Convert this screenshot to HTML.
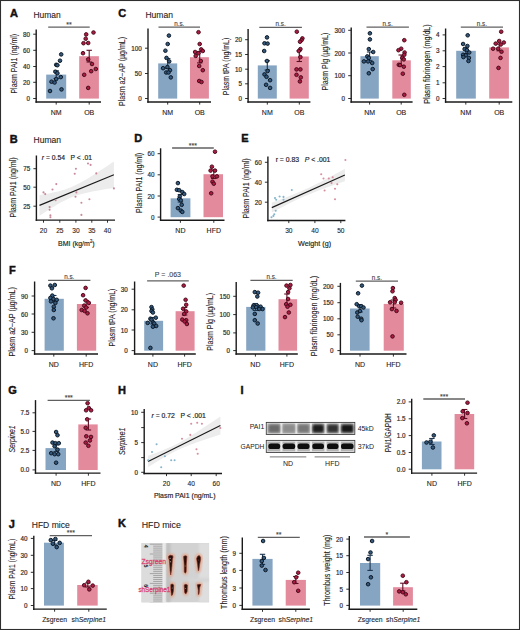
<!DOCTYPE html>
<html><head><meta charset="utf-8"><style>
html,body{margin:0;padding:0;background:#fff;width:520px;height:630px;overflow:hidden}
svg{display:block}
</style></head><body>
<svg width="520" height="630" viewBox="0 0 520 630" font-family='"Liberation Sans", sans-serif'>
<rect x="0" y="0" width="520" height="630" fill="#ffffff"/>
<text x="10.0" y="16.9" font-size="11" font-weight="bold" fill="#111" stroke="#111" stroke-width="0.45">A</text>
<text x="33.5" y="18.2" font-size="8.7" textLength="27.3" lengthAdjust="spacingAndGlyphs" fill="#222" stroke="#222" stroke-width="0.1">Human</text>
<rect x="46.2" y="74.6" width="20" height="24" fill="#86a5c2"/>
<rect x="79.2" y="56.2" width="19.7" height="42.4" fill="#e38b9d"/>
<line x1="56.2" y1="70.8" x2="56.2" y2="78.5" stroke="#1c3550" stroke-width="1.1"/>
<line x1="53.5" y1="70.8" x2="58.9" y2="70.8" stroke="#1c3550" stroke-width="1.1"/>
<line x1="53.5" y1="78.5" x2="58.9" y2="78.5" stroke="#1c3550" stroke-width="1.1"/>
<line x1="89.2" y1="50.3" x2="89.2" y2="62.0" stroke="#5e0c24" stroke-width="1.1"/>
<line x1="86.5" y1="50.3" x2="91.9" y2="50.3" stroke="#5e0c24" stroke-width="1.1"/>
<line x1="86.5" y1="62.0" x2="91.9" y2="62.0" stroke="#5e0c24" stroke-width="1.1"/>
<circle cx="61.2" cy="54.4" r="1.8" fill="#34587c" stroke="#0a1522" stroke-width="0.95"/>
<circle cx="60" cy="60.7" r="1.8" fill="#34587c" stroke="#0a1522" stroke-width="0.95"/>
<circle cx="56.2" cy="64.8" r="1.8" fill="#34587c" stroke="#0a1522" stroke-width="0.95"/>
<circle cx="57.4" cy="65.2" r="1.8" fill="#34587c" stroke="#0a1522" stroke-width="0.95"/>
<circle cx="55.4" cy="71.7" r="1.8" fill="#34587c" stroke="#0a1522" stroke-width="0.95"/>
<circle cx="57.4" cy="73.2" r="1.8" fill="#34587c" stroke="#0a1522" stroke-width="0.95"/>
<circle cx="60.8" cy="77.1" r="1.8" fill="#34587c" stroke="#0a1522" stroke-width="0.95"/>
<circle cx="56.2" cy="79.0" r="1.8" fill="#34587c" stroke="#0a1522" stroke-width="0.95"/>
<circle cx="51.5" cy="81.7" r="1.8" fill="#34587c" stroke="#0a1522" stroke-width="0.95"/>
<circle cx="54.6" cy="82.5" r="1.8" fill="#34587c" stroke="#0a1522" stroke-width="0.95"/>
<circle cx="61.5" cy="89.4" r="1.8" fill="#34587c" stroke="#0a1522" stroke-width="0.95"/>
<circle cx="50" cy="91.0" r="1.8" fill="#34587c" stroke="#0a1522" stroke-width="0.95"/>
<circle cx="93.5" cy="32.5" r="1.8" fill="#ac1c40" stroke="#46081a" stroke-width="0.95"/>
<circle cx="86.2" cy="34.4" r="1.8" fill="#ac1c40" stroke="#46081a" stroke-width="0.95"/>
<circle cx="85.7" cy="38.7" r="1.8" fill="#ac1c40" stroke="#46081a" stroke-width="0.95"/>
<circle cx="83.5" cy="43.2" r="1.8" fill="#ac1c40" stroke="#46081a" stroke-width="0.95"/>
<circle cx="88.2" cy="43.0" r="1.8" fill="#ac1c40" stroke="#46081a" stroke-width="0.95"/>
<circle cx="83" cy="53.2" r="1.8" fill="#ac1c40" stroke="#46081a" stroke-width="0.95"/>
<circle cx="88.2" cy="59.4" r="1.8" fill="#ac1c40" stroke="#46081a" stroke-width="0.95"/>
<circle cx="92" cy="64.0" r="1.8" fill="#ac1c40" stroke="#46081a" stroke-width="0.95"/>
<circle cx="95.8" cy="69.0" r="1.8" fill="#ac1c40" stroke="#46081a" stroke-width="0.95"/>
<circle cx="91.2" cy="71.2" r="1.8" fill="#ac1c40" stroke="#46081a" stroke-width="0.95"/>
<circle cx="84.2" cy="74.8" r="1.8" fill="#ac1c40" stroke="#46081a" stroke-width="0.95"/>
<circle cx="88.2" cy="87.9" r="1.8" fill="#ac1c40" stroke="#46081a" stroke-width="0.95"/>
<line x1="36.2" y1="29.5" x2="36.2" y2="102.8" stroke="#1a1a1a" stroke-width="1.4"/>
<line x1="35.5" y1="102.0" x2="101.0" y2="102.0" stroke="#1a1a1a" stroke-width="1.4"/>
<line x1="33.2" y1="34.2" x2="36.2" y2="34.2" stroke="#1a1a1a" stroke-width="0.9"/>
<text x="30.0" y="36.7" font-size="6.3" text-anchor="end" fill="#2a2a2a" stroke="#2a2a2a" stroke-width="0.18">80</text>
<line x1="33.2" y1="50.3" x2="36.2" y2="50.3" stroke="#1a1a1a" stroke-width="0.9"/>
<text x="30.0" y="52.8" font-size="6.3" text-anchor="end" fill="#2a2a2a" stroke="#2a2a2a" stroke-width="0.18">60</text>
<line x1="33.2" y1="66.5" x2="36.2" y2="66.5" stroke="#1a1a1a" stroke-width="0.9"/>
<text x="30.0" y="69.0" font-size="6.3" text-anchor="end" fill="#2a2a2a" stroke="#2a2a2a" stroke-width="0.18">40</text>
<line x1="33.2" y1="82.3" x2="36.2" y2="82.3" stroke="#1a1a1a" stroke-width="0.9"/>
<text x="30.0" y="84.8" font-size="6.3" text-anchor="end" fill="#2a2a2a" stroke="#2a2a2a" stroke-width="0.18">20</text>
<line x1="33.2" y1="98.5" x2="36.2" y2="98.5" stroke="#1a1a1a" stroke-width="0.9"/>
<text x="30.0" y="101.0" font-size="6.3" text-anchor="end" fill="#2a2a2a" stroke="#2a2a2a" stroke-width="0.18">0</text>
<line x1="56.2" y1="102.0" x2="56.2" y2="104.6" stroke="#1a1a1a" stroke-width="0.9"/>
<text x="56.2" y="114.5" font-size="7.0" text-anchor="middle" fill="#222" stroke="#222" stroke-width="0.1">NM</text>
<line x1="89.2" y1="102.0" x2="89.2" y2="104.6" stroke="#1a1a1a" stroke-width="0.9"/>
<text x="89.2" y="114.5" font-size="7.0" text-anchor="middle" fill="#222" stroke="#222" stroke-width="0.1">OB</text>
<line x1="48.2" y1="27.2" x2="89.7" y2="27.2" stroke="#606060" stroke-width="1.3"/>
<text x="68.95" y="26.8" font-size="7" text-anchor="middle" fill="#444" stroke="#444" stroke-width="0.12">**</text>
<text transform="translate(13.9,63.7) rotate(-90)" x="0" y="0" font-size="8.3" text-anchor="middle" dominant-baseline="central" textLength="59.7" lengthAdjust="spacingAndGlyphs" fill="#222" stroke="#222" stroke-width="0.1">Plasm PAI1 (ng/ml)</text>
<text x="118.3" y="16.9" font-size="11" font-weight="bold" fill="#111" stroke="#111" stroke-width="0.45">C</text>
<text x="145.4" y="18.2" font-size="8.7" textLength="27.6" lengthAdjust="spacingAndGlyphs" fill="#222" stroke="#222" stroke-width="0.1">Human</text>
<rect x="158.2" y="63.4" width="19" height="35.2" fill="#86a5c2"/>
<rect x="190" y="57.2" width="18.9" height="41.4" fill="#e38b9d"/>
<line x1="167.7" y1="58.5" x2="167.7" y2="68.3" stroke="#1c3550" stroke-width="1.1"/>
<line x1="165.0" y1="58.5" x2="170.4" y2="58.5" stroke="#1c3550" stroke-width="1.1"/>
<line x1="165.0" y1="68.3" x2="170.4" y2="68.3" stroke="#1c3550" stroke-width="1.1"/>
<line x1="199.7" y1="51.5" x2="199.7" y2="62.9" stroke="#5e0c24" stroke-width="1.1"/>
<line x1="197.0" y1="51.5" x2="202.4" y2="51.5" stroke="#5e0c24" stroke-width="1.1"/>
<line x1="197.0" y1="62.9" x2="202.4" y2="62.9" stroke="#5e0c24" stroke-width="1.1"/>
<circle cx="168.9" cy="35.6" r="1.8" fill="#34587c" stroke="#0a1522" stroke-width="0.95"/>
<circle cx="167.7" cy="44.0" r="1.8" fill="#34587c" stroke="#0a1522" stroke-width="0.95"/>
<circle cx="165.4" cy="50.7" r="1.8" fill="#34587c" stroke="#0a1522" stroke-width="0.95"/>
<circle cx="166.5" cy="57.9" r="1.8" fill="#34587c" stroke="#0a1522" stroke-width="0.95"/>
<circle cx="169.2" cy="61.4" r="1.8" fill="#34587c" stroke="#0a1522" stroke-width="0.95"/>
<circle cx="163.1" cy="68.2" r="1.8" fill="#34587c" stroke="#0a1522" stroke-width="0.95"/>
<circle cx="167.4" cy="67.1" r="1.8" fill="#34587c" stroke="#0a1522" stroke-width="0.95"/>
<circle cx="170" cy="70.2" r="1.8" fill="#34587c" stroke="#0a1522" stroke-width="0.95"/>
<circle cx="166.2" cy="72.5" r="1.8" fill="#34587c" stroke="#0a1522" stroke-width="0.95"/>
<circle cx="168.5" cy="72.5" r="1.8" fill="#34587c" stroke="#0a1522" stroke-width="0.95"/>
<circle cx="170.8" cy="77.4" r="1.8" fill="#34587c" stroke="#0a1522" stroke-width="0.95"/>
<circle cx="198.5" cy="32.2" r="1.8" fill="#ac1c40" stroke="#46081a" stroke-width="0.95"/>
<circle cx="199.7" cy="44.0" r="1.8" fill="#ac1c40" stroke="#46081a" stroke-width="0.95"/>
<circle cx="201.2" cy="49.4" r="1.8" fill="#ac1c40" stroke="#46081a" stroke-width="0.95"/>
<circle cx="202.8" cy="51.0" r="1.8" fill="#ac1c40" stroke="#46081a" stroke-width="0.95"/>
<circle cx="195.1" cy="52.0" r="1.8" fill="#ac1c40" stroke="#46081a" stroke-width="0.95"/>
<circle cx="198.5" cy="53.2" r="1.8" fill="#ac1c40" stroke="#46081a" stroke-width="0.95"/>
<circle cx="195.7" cy="55.9" r="1.8" fill="#ac1c40" stroke="#46081a" stroke-width="0.95"/>
<circle cx="200.8" cy="61.0" r="1.8" fill="#ac1c40" stroke="#46081a" stroke-width="0.95"/>
<circle cx="199.2" cy="66.0" r="1.8" fill="#ac1c40" stroke="#46081a" stroke-width="0.95"/>
<circle cx="202.8" cy="70.2" r="1.8" fill="#ac1c40" stroke="#46081a" stroke-width="0.95"/>
<circle cx="199.2" cy="81.0" r="1.8" fill="#ac1c40" stroke="#46081a" stroke-width="0.95"/>
<circle cx="201.5" cy="82.0" r="1.8" fill="#ac1c40" stroke="#46081a" stroke-width="0.95"/>
<line x1="148" y1="28.5" x2="148" y2="102.8" stroke="#1a1a1a" stroke-width="1.4"/>
<line x1="147.3" y1="102.0" x2="211" y2="102.0" stroke="#1a1a1a" stroke-width="1.4"/>
<line x1="145" y1="48.2" x2="148" y2="48.2" stroke="#1a1a1a" stroke-width="0.9"/>
<text x="141.8" y="50.7" font-size="6.3" text-anchor="end" fill="#2a2a2a" stroke="#2a2a2a" stroke-width="0.18">100</text>
<line x1="145" y1="73.5" x2="148" y2="73.5" stroke="#1a1a1a" stroke-width="0.9"/>
<text x="141.8" y="76.0" font-size="6.3" text-anchor="end" fill="#2a2a2a" stroke="#2a2a2a" stroke-width="0.18">50</text>
<line x1="145" y1="98.5" x2="148" y2="98.5" stroke="#1a1a1a" stroke-width="0.9"/>
<text x="141.8" y="101.0" font-size="6.3" text-anchor="end" fill="#2a2a2a" stroke="#2a2a2a" stroke-width="0.18">0</text>
<line x1="167.7" y1="102.0" x2="167.7" y2="104.6" stroke="#1a1a1a" stroke-width="0.9"/>
<text x="167.7" y="114.5" font-size="7.0" text-anchor="middle" fill="#222" stroke="#222" stroke-width="0.1">NM</text>
<line x1="199.7" y1="102.0" x2="199.7" y2="104.6" stroke="#1a1a1a" stroke-width="0.9"/>
<text x="199.7" y="114.5" font-size="7.0" text-anchor="middle" fill="#222" stroke="#222" stroke-width="0.1">OB</text>
<line x1="158.5" y1="27.2" x2="200" y2="27.2" stroke="#606060" stroke-width="1.3"/>
<text x="179.25" y="26.1" font-size="6.3" text-anchor="middle" fill="#444" stroke="#444" stroke-width="0.12">n.s.</text>
<text transform="translate(121.7,71.4) rotate(-90)" x="0" y="0" font-size="8.3" text-anchor="middle" dominant-baseline="central" textLength="69" lengthAdjust="spacingAndGlyphs" fill="#222" stroke="#222" stroke-width="0.1">Plasm a2&#8722;AP (&#181;g/mL)</text>
<rect x="257.8" y="65.4" width="19" height="33.2" fill="#86a5c2"/>
<rect x="289.6" y="56.5" width="19.2" height="42.1" fill="#e38b9d"/>
<line x1="267.3" y1="60.8" x2="267.3" y2="70.0" stroke="#1c3550" stroke-width="1.1"/>
<line x1="264.6" y1="60.8" x2="270.0" y2="60.8" stroke="#1c3550" stroke-width="1.1"/>
<line x1="264.6" y1="70.0" x2="270.0" y2="70.0" stroke="#1c3550" stroke-width="1.1"/>
<line x1="299.3" y1="50.8" x2="299.3" y2="61.5" stroke="#5e0c24" stroke-width="1.1"/>
<line x1="296.6" y1="50.8" x2="302.0" y2="50.8" stroke="#5e0c24" stroke-width="1.1"/>
<line x1="296.6" y1="61.5" x2="302.0" y2="61.5" stroke="#5e0c24" stroke-width="1.1"/>
<circle cx="267" cy="37.4" r="1.8" fill="#34587c" stroke="#0a1522" stroke-width="0.95"/>
<circle cx="264.5" cy="43.3" r="1.8" fill="#34587c" stroke="#0a1522" stroke-width="0.95"/>
<circle cx="267.6" cy="43.6" r="1.8" fill="#34587c" stroke="#0a1522" stroke-width="0.95"/>
<circle cx="264.2" cy="51.0" r="1.8" fill="#34587c" stroke="#0a1522" stroke-width="0.95"/>
<circle cx="267" cy="61.0" r="1.8" fill="#34587c" stroke="#0a1522" stroke-width="0.95"/>
<circle cx="267.6" cy="71.0" r="1.8" fill="#34587c" stroke="#0a1522" stroke-width="0.95"/>
<circle cx="264.5" cy="74.4" r="1.8" fill="#34587c" stroke="#0a1522" stroke-width="0.95"/>
<circle cx="266.5" cy="76.8" r="1.8" fill="#34587c" stroke="#0a1522" stroke-width="0.95"/>
<circle cx="270.1" cy="80.2" r="1.8" fill="#34587c" stroke="#0a1522" stroke-width="0.95"/>
<circle cx="266.1" cy="84.8" r="1.8" fill="#34587c" stroke="#0a1522" stroke-width="0.95"/>
<circle cx="270.1" cy="87.9" r="1.8" fill="#34587c" stroke="#0a1522" stroke-width="0.95"/>
<circle cx="296.8" cy="31.7" r="1.8" fill="#ac1c40" stroke="#46081a" stroke-width="0.95"/>
<circle cx="302.4" cy="38.4" r="1.8" fill="#ac1c40" stroke="#46081a" stroke-width="0.95"/>
<circle cx="301.5" cy="40.2" r="1.8" fill="#ac1c40" stroke="#46081a" stroke-width="0.95"/>
<circle cx="300" cy="41.7" r="1.8" fill="#ac1c40" stroke="#46081a" stroke-width="0.95"/>
<circle cx="300.4" cy="49.1" r="1.8" fill="#ac1c40" stroke="#46081a" stroke-width="0.95"/>
<circle cx="298.8" cy="51.0" r="1.8" fill="#ac1c40" stroke="#46081a" stroke-width="0.95"/>
<circle cx="300.4" cy="57.1" r="1.8" fill="#ac1c40" stroke="#46081a" stroke-width="0.95"/>
<circle cx="296.5" cy="69.4" r="1.8" fill="#ac1c40" stroke="#46081a" stroke-width="0.95"/>
<circle cx="300.4" cy="69.4" r="1.8" fill="#ac1c40" stroke="#46081a" stroke-width="0.95"/>
<circle cx="296.5" cy="74.8" r="1.8" fill="#ac1c40" stroke="#46081a" stroke-width="0.95"/>
<circle cx="300.8" cy="77.4" r="1.8" fill="#ac1c40" stroke="#46081a" stroke-width="0.95"/>
<circle cx="299.9" cy="81.4" r="1.8" fill="#ac1c40" stroke="#46081a" stroke-width="0.95"/>
<line x1="248.1" y1="28.9" x2="248.1" y2="102.8" stroke="#1a1a1a" stroke-width="1.4"/>
<line x1="247.4" y1="102.0" x2="310.4" y2="102.0" stroke="#1a1a1a" stroke-width="1.4"/>
<line x1="245.1" y1="39.7" x2="248.1" y2="39.7" stroke="#1a1a1a" stroke-width="0.9"/>
<text x="241.9" y="42.2" font-size="6.3" text-anchor="end" fill="#2a2a2a" stroke="#2a2a2a" stroke-width="0.18">20</text>
<line x1="245.1" y1="54.5" x2="248.1" y2="54.5" stroke="#1a1a1a" stroke-width="0.9"/>
<text x="241.9" y="57.0" font-size="6.3" text-anchor="end" fill="#2a2a2a" stroke="#2a2a2a" stroke-width="0.18">15</text>
<line x1="245.1" y1="69.2" x2="248.1" y2="69.2" stroke="#1a1a1a" stroke-width="0.9"/>
<text x="241.9" y="71.7" font-size="6.3" text-anchor="end" fill="#2a2a2a" stroke="#2a2a2a" stroke-width="0.18">10</text>
<line x1="245.1" y1="83.8" x2="248.1" y2="83.8" stroke="#1a1a1a" stroke-width="0.9"/>
<text x="241.9" y="86.3" font-size="6.3" text-anchor="end" fill="#2a2a2a" stroke="#2a2a2a" stroke-width="0.18">5</text>
<line x1="245.1" y1="98.5" x2="248.1" y2="98.5" stroke="#1a1a1a" stroke-width="0.9"/>
<text x="241.9" y="101.0" font-size="6.3" text-anchor="end" fill="#2a2a2a" stroke="#2a2a2a" stroke-width="0.18">0</text>
<line x1="267.3" y1="102.0" x2="267.3" y2="104.6" stroke="#1a1a1a" stroke-width="0.9"/>
<text x="267.3" y="114.5" font-size="7.0" text-anchor="middle" fill="#222" stroke="#222" stroke-width="0.1">NM</text>
<line x1="299.3" y1="102.0" x2="299.3" y2="104.6" stroke="#1a1a1a" stroke-width="0.9"/>
<text x="299.3" y="114.5" font-size="7.0" text-anchor="middle" fill="#222" stroke="#222" stroke-width="0.1">OB</text>
<line x1="259.3" y1="27.4" x2="301.9" y2="27.4" stroke="#606060" stroke-width="1.3"/>
<text x="280.6" y="26.3" font-size="6.3" text-anchor="middle" fill="#444" stroke="#444" stroke-width="0.12">n.s.</text>
<text transform="translate(226.0,66.5) rotate(-90)" x="0" y="0" font-size="8.3" text-anchor="middle" dominant-baseline="central" textLength="57.4" lengthAdjust="spacingAndGlyphs" fill="#222" stroke="#222" stroke-width="0.1">Plasm tPA (ng/mL)</text>
<rect x="360.4" y="56.2" width="18.4" height="42.4" fill="#86a5c2"/>
<rect x="392.3" y="60.3" width="18.5" height="38.3" fill="#e38b9d"/>
<line x1="369.6" y1="52.0" x2="369.6" y2="60.4" stroke="#1c3550" stroke-width="1.1"/>
<line x1="366.9" y1="52.0" x2="372.3" y2="52.0" stroke="#1c3550" stroke-width="1.1"/>
<line x1="366.9" y1="60.4" x2="372.3" y2="60.4" stroke="#1c3550" stroke-width="1.1"/>
<line x1="401.2" y1="55.0" x2="401.2" y2="65.6" stroke="#5e0c24" stroke-width="1.1"/>
<line x1="398.5" y1="55.0" x2="403.9" y2="55.0" stroke="#5e0c24" stroke-width="1.1"/>
<line x1="398.5" y1="65.6" x2="403.9" y2="65.6" stroke="#5e0c24" stroke-width="1.1"/>
<circle cx="369.9" cy="33.3" r="1.8" fill="#34587c" stroke="#0a1522" stroke-width="0.95"/>
<circle cx="369.9" cy="39.4" r="1.8" fill="#34587c" stroke="#0a1522" stroke-width="0.95"/>
<circle cx="368.8" cy="49.1" r="1.8" fill="#34587c" stroke="#0a1522" stroke-width="0.95"/>
<circle cx="373.2" cy="52.0" r="1.8" fill="#34587c" stroke="#0a1522" stroke-width="0.95"/>
<circle cx="367.3" cy="56.4" r="1.8" fill="#34587c" stroke="#0a1522" stroke-width="0.95"/>
<circle cx="368.8" cy="57.9" r="1.8" fill="#34587c" stroke="#0a1522" stroke-width="0.95"/>
<circle cx="363.9" cy="61.4" r="1.8" fill="#34587c" stroke="#0a1522" stroke-width="0.95"/>
<circle cx="368.1" cy="61.4" r="1.8" fill="#34587c" stroke="#0a1522" stroke-width="0.95"/>
<circle cx="372.2" cy="63.0" r="1.8" fill="#34587c" stroke="#0a1522" stroke-width="0.95"/>
<circle cx="372.7" cy="69.1" r="1.8" fill="#34587c" stroke="#0a1522" stroke-width="0.95"/>
<circle cx="368.8" cy="73.3" r="1.8" fill="#34587c" stroke="#0a1522" stroke-width="0.95"/>
<circle cx="404.3" cy="40.2" r="1.8" fill="#ac1c40" stroke="#46081a" stroke-width="0.95"/>
<circle cx="401.2" cy="48.7" r="1.8" fill="#ac1c40" stroke="#46081a" stroke-width="0.95"/>
<circle cx="398.5" cy="50.2" r="1.8" fill="#ac1c40" stroke="#46081a" stroke-width="0.95"/>
<circle cx="404.6" cy="52.5" r="1.8" fill="#ac1c40" stroke="#46081a" stroke-width="0.95"/>
<circle cx="404.3" cy="54.8" r="1.8" fill="#ac1c40" stroke="#46081a" stroke-width="0.95"/>
<circle cx="402.3" cy="57.9" r="1.8" fill="#ac1c40" stroke="#46081a" stroke-width="0.95"/>
<circle cx="403.8" cy="59.4" r="1.8" fill="#ac1c40" stroke="#46081a" stroke-width="0.95"/>
<circle cx="398.8" cy="64.8" r="1.8" fill="#ac1c40" stroke="#46081a" stroke-width="0.95"/>
<circle cx="400" cy="65.1" r="1.8" fill="#ac1c40" stroke="#46081a" stroke-width="0.95"/>
<circle cx="403.8" cy="66.7" r="1.8" fill="#ac1c40" stroke="#46081a" stroke-width="0.95"/>
<circle cx="402.8" cy="73.7" r="1.8" fill="#ac1c40" stroke="#46081a" stroke-width="0.95"/>
<circle cx="404.3" cy="94.8" r="1.8" fill="#ac1c40" stroke="#46081a" stroke-width="0.95"/>
<line x1="351.2" y1="27.4" x2="351.2" y2="102.8" stroke="#1a1a1a" stroke-width="1.4"/>
<line x1="350.5" y1="102.0" x2="412.6" y2="102.0" stroke="#1a1a1a" stroke-width="1.4"/>
<line x1="348.2" y1="30.3" x2="351.2" y2="30.3" stroke="#1a1a1a" stroke-width="0.9"/>
<text x="345.0" y="32.8" font-size="6.3" text-anchor="end" fill="#2a2a2a" stroke="#2a2a2a" stroke-width="0.18">300</text>
<line x1="348.2" y1="53" x2="351.2" y2="53" stroke="#1a1a1a" stroke-width="0.9"/>
<text x="345.0" y="55.5" font-size="6.3" text-anchor="end" fill="#2a2a2a" stroke="#2a2a2a" stroke-width="0.18">200</text>
<line x1="348.2" y1="75.7" x2="351.2" y2="75.7" stroke="#1a1a1a" stroke-width="0.9"/>
<text x="345.0" y="78.2" font-size="6.3" text-anchor="end" fill="#2a2a2a" stroke="#2a2a2a" stroke-width="0.18">100</text>
<line x1="348.2" y1="98.5" x2="351.2" y2="98.5" stroke="#1a1a1a" stroke-width="0.9"/>
<text x="345.0" y="101.0" font-size="6.3" text-anchor="end" fill="#2a2a2a" stroke="#2a2a2a" stroke-width="0.18">0</text>
<line x1="369.6" y1="102.0" x2="369.6" y2="104.6" stroke="#1a1a1a" stroke-width="0.9"/>
<text x="369.6" y="114.5" font-size="7.0" text-anchor="middle" fill="#222" stroke="#222" stroke-width="0.1">NM</text>
<line x1="401.2" y1="102.0" x2="401.2" y2="104.6" stroke="#1a1a1a" stroke-width="0.9"/>
<text x="401.2" y="114.5" font-size="7.0" text-anchor="middle" fill="#222" stroke="#222" stroke-width="0.1">OB</text>
<line x1="366.5" y1="27.2" x2="408.9" y2="27.2" stroke="#606060" stroke-width="1.3"/>
<text x="387.7" y="26.1" font-size="6.3" text-anchor="middle" fill="#444" stroke="#444" stroke-width="0.12">n.s.</text>
<text transform="translate(324.5,61.6) rotate(-90)" x="0" y="0" font-size="8.3" text-anchor="middle" dominant-baseline="central" textLength="57.7" lengthAdjust="spacingAndGlyphs" fill="#222" stroke="#222" stroke-width="0.1">Plasm Plg (&#181;g/mL)</text>
<rect x="456.2" y="50.8" width="19.6" height="47.8" fill="#86a5c2"/>
<rect x="489.2" y="47.4" width="19.7" height="51.2" fill="#e38b9d"/>
<line x1="465.8" y1="48.0" x2="465.8" y2="53.6" stroke="#1c3550" stroke-width="1.1"/>
<line x1="463.1" y1="48.0" x2="468.5" y2="48.0" stroke="#1c3550" stroke-width="1.1"/>
<line x1="463.1" y1="53.6" x2="468.5" y2="53.6" stroke="#1c3550" stroke-width="1.1"/>
<line x1="499.2" y1="44.0" x2="499.2" y2="50.8" stroke="#5e0c24" stroke-width="1.1"/>
<line x1="496.5" y1="44.0" x2="501.9" y2="44.0" stroke="#5e0c24" stroke-width="1.1"/>
<line x1="496.5" y1="50.8" x2="501.9" y2="50.8" stroke="#5e0c24" stroke-width="1.1"/>
<circle cx="467.7" cy="35.3" r="1.8" fill="#34587c" stroke="#0a1522" stroke-width="0.95"/>
<circle cx="463.1" cy="44.0" r="1.8" fill="#34587c" stroke="#0a1522" stroke-width="0.95"/>
<circle cx="467.4" cy="46.0" r="1.8" fill="#34587c" stroke="#0a1522" stroke-width="0.95"/>
<circle cx="464.6" cy="49.1" r="1.8" fill="#34587c" stroke="#0a1522" stroke-width="0.95"/>
<circle cx="466.9" cy="50.2" r="1.8" fill="#34587c" stroke="#0a1522" stroke-width="0.95"/>
<circle cx="469.2" cy="52.5" r="1.8" fill="#34587c" stroke="#0a1522" stroke-width="0.95"/>
<circle cx="463.1" cy="54.8" r="1.8" fill="#34587c" stroke="#0a1522" stroke-width="0.95"/>
<circle cx="465.8" cy="55.3" r="1.8" fill="#34587c" stroke="#0a1522" stroke-width="0.95"/>
<circle cx="463.4" cy="57.1" r="1.8" fill="#34587c" stroke="#0a1522" stroke-width="0.95"/>
<circle cx="468.9" cy="57.9" r="1.8" fill="#34587c" stroke="#0a1522" stroke-width="0.95"/>
<circle cx="468.5" cy="61.0" r="1.8" fill="#34587c" stroke="#0a1522" stroke-width="0.95"/>
<circle cx="501.2" cy="31.7" r="1.8" fill="#ac1c40" stroke="#46081a" stroke-width="0.95"/>
<circle cx="499.2" cy="41.0" r="1.8" fill="#ac1c40" stroke="#46081a" stroke-width="0.95"/>
<circle cx="503.8" cy="42.5" r="1.8" fill="#ac1c40" stroke="#46081a" stroke-width="0.95"/>
<circle cx="495.7" cy="43.6" r="1.8" fill="#ac1c40" stroke="#46081a" stroke-width="0.95"/>
<circle cx="500.8" cy="44.5" r="1.8" fill="#ac1c40" stroke="#46081a" stroke-width="0.95"/>
<circle cx="493.1" cy="48.7" r="1.8" fill="#ac1c40" stroke="#46081a" stroke-width="0.95"/>
<circle cx="498.2" cy="48.7" r="1.8" fill="#ac1c40" stroke="#46081a" stroke-width="0.95"/>
<circle cx="501.5" cy="51.7" r="1.8" fill="#ac1c40" stroke="#46081a" stroke-width="0.95"/>
<circle cx="500.5" cy="57.9" r="1.8" fill="#ac1c40" stroke="#46081a" stroke-width="0.95"/>
<circle cx="498.5" cy="67.9" r="1.8" fill="#ac1c40" stroke="#46081a" stroke-width="0.95"/>
<line x1="445.6" y1="28.5" x2="445.6" y2="102.8" stroke="#1a1a1a" stroke-width="1.4"/>
<line x1="444.9" y1="102.0" x2="512.3" y2="102.0" stroke="#1a1a1a" stroke-width="1.4"/>
<line x1="442.6" y1="34.9" x2="445.6" y2="34.9" stroke="#1a1a1a" stroke-width="0.9"/>
<text x="439.4" y="37.4" font-size="6.3" text-anchor="end" fill="#2a2a2a" stroke="#2a2a2a" stroke-width="0.18">4</text>
<line x1="442.6" y1="50.8" x2="445.6" y2="50.8" stroke="#1a1a1a" stroke-width="0.9"/>
<text x="439.4" y="53.3" font-size="6.3" text-anchor="end" fill="#2a2a2a" stroke="#2a2a2a" stroke-width="0.18">3</text>
<line x1="442.6" y1="66.6" x2="445.6" y2="66.6" stroke="#1a1a1a" stroke-width="0.9"/>
<text x="439.4" y="69.1" font-size="6.3" text-anchor="end" fill="#2a2a2a" stroke="#2a2a2a" stroke-width="0.18">2</text>
<line x1="442.6" y1="82.8" x2="445.6" y2="82.8" stroke="#1a1a1a" stroke-width="0.9"/>
<text x="439.4" y="85.3" font-size="6.3" text-anchor="end" fill="#2a2a2a" stroke="#2a2a2a" stroke-width="0.18">1</text>
<line x1="442.6" y1="98.5" x2="445.6" y2="98.5" stroke="#1a1a1a" stroke-width="0.9"/>
<text x="439.4" y="101.0" font-size="6.3" text-anchor="end" fill="#2a2a2a" stroke="#2a2a2a" stroke-width="0.18">0</text>
<line x1="465.8" y1="102.0" x2="465.8" y2="104.6" stroke="#1a1a1a" stroke-width="0.9"/>
<text x="465.8" y="114.5" font-size="7.0" text-anchor="middle" fill="#222" stroke="#222" stroke-width="0.1">NM</text>
<line x1="499.2" y1="102.0" x2="499.2" y2="104.6" stroke="#1a1a1a" stroke-width="0.9"/>
<text x="499.2" y="114.5" font-size="7.0" text-anchor="middle" fill="#222" stroke="#222" stroke-width="0.1">OB</text>
<line x1="460.8" y1="27.2" x2="503" y2="27.2" stroke="#606060" stroke-width="1.3"/>
<text x="481.9" y="26.1" font-size="6.3" text-anchor="middle" fill="#444" stroke="#444" stroke-width="0.12">n.s.</text>
<text transform="translate(427.3,64) rotate(-90)" x="0" y="0" font-size="8.3" text-anchor="middle" dominant-baseline="central" textLength="79.3" lengthAdjust="spacingAndGlyphs" fill="#222" stroke="#222" stroke-width="0.1">Plasm fibrinogen (mg/dL)</text>
<text x="9.8" y="142.7" font-size="11" font-weight="bold" fill="#111" stroke="#111" stroke-width="0.45">B</text>
<text x="33.5" y="142.7" font-size="8.7" textLength="27.6" lengthAdjust="spacingAndGlyphs" fill="#222" stroke="#222" stroke-width="0.1">Human</text>
<path d="M39.50,195.10 L42.60,194.57 L45.70,194.01 L48.80,193.42 L51.90,192.80 L55.00,192.12 L58.10,191.38 L61.20,190.56 L64.30,189.64 L67.40,188.59 L70.50,187.41 L73.60,186.08 L76.70,184.60 L79.80,183.00 L82.90,181.29 L86.00,179.50 L89.10,177.63 L92.20,175.71 L95.30,173.75 L98.40,171.76 L101.50,169.74 L104.60,167.70 L107.70,165.65 L110.80,163.58 L113.90,161.50 L113.90,187.90 L110.80,188.38 L107.70,188.87 L104.60,189.37 L101.50,189.89 L98.40,190.43 L95.30,191.00 L92.20,191.59 L89.10,192.23 L86.00,192.93 L82.90,193.69 L79.80,194.54 L76.70,195.50 L73.60,196.58 L70.50,197.81 L67.40,199.18 L64.30,200.70 L61.20,202.33 L58.10,204.07 L55.00,205.89 L51.90,207.77 L48.80,209.70 L45.70,211.67 L42.60,213.67 L39.50,215.70 Z" fill="#ececec"/>
<line x1="39.5" y1="205.4" x2="113.9" y2="174.7" stroke="#1a1a1a" stroke-width="1.15"/>
<circle cx="43.5" cy="192.4" r="1.05" fill="#c98a9a"/>
<circle cx="45.2" cy="194.1" r="1.05" fill="#c98a9a"/>
<circle cx="52.5" cy="189.5" r="1.05" fill="#c98a9a"/>
<circle cx="56.3" cy="184.1" r="1.05" fill="#c98a9a"/>
<circle cx="49.6" cy="207.1" r="1.05" fill="#c98a9a"/>
<circle cx="49.6" cy="209.7" r="1.05" fill="#c98a9a"/>
<circle cx="50.4" cy="215.4" r="1.05" fill="#c98a9a"/>
<circle cx="50.4" cy="217.2" r="1.05" fill="#c98a9a"/>
<circle cx="55.6" cy="200.2" r="1.05" fill="#c98a9a"/>
<circle cx="75.9" cy="168.7" r="1.05" fill="#c98a9a"/>
<circle cx="74.7" cy="173.7" r="1.05" fill="#c98a9a"/>
<circle cx="76.4" cy="192.4" r="1.05" fill="#c98a9a"/>
<circle cx="75.5" cy="196.7" r="1.05" fill="#c98a9a"/>
<circle cx="81.4" cy="202.8" r="1.05" fill="#c98a9a"/>
<circle cx="81.4" cy="214.9" r="1.05" fill="#c98a9a"/>
<circle cx="88" cy="163.5" r="1.05" fill="#c98a9a"/>
<circle cx="90.6" cy="164.9" r="1.05" fill="#c98a9a"/>
<circle cx="96.3" cy="173.4" r="1.05" fill="#c98a9a"/>
<circle cx="89.4" cy="199.3" r="1.05" fill="#c98a9a"/>
<circle cx="113.9" cy="188.4" r="1.05" fill="#c98a9a"/>
<line x1="36.4" y1="155.5" x2="36.4" y2="220.9" stroke="#1a1a1a" stroke-width="1.4"/>
<line x1="35.7" y1="220.1" x2="115" y2="220.1" stroke="#1a1a1a" stroke-width="1.4"/>
<line x1="33.4" y1="168.7" x2="36.4" y2="168.7" stroke="#1a1a1a" stroke-width="0.9"/>
<text x="30.2" y="171.2" font-size="6.3" text-anchor="end" fill="#2a2a2a" stroke="#2a2a2a" stroke-width="0.18">75</text>
<line x1="33.4" y1="187.2" x2="36.4" y2="187.2" stroke="#1a1a1a" stroke-width="0.9"/>
<text x="30.2" y="189.7" font-size="6.3" text-anchor="end" fill="#2a2a2a" stroke="#2a2a2a" stroke-width="0.18">50</text>
<line x1="33.4" y1="206.2" x2="36.4" y2="206.2" stroke="#1a1a1a" stroke-width="0.9"/>
<text x="30.2" y="208.7" font-size="6.3" text-anchor="end" fill="#2a2a2a" stroke="#2a2a2a" stroke-width="0.18">25</text>
<line x1="43.5" y1="220.1" x2="43.5" y2="222.7" stroke="#1a1a1a" stroke-width="0.9"/>
<text x="43.5" y="233.0" font-size="6.6" text-anchor="middle" fill="#222" stroke="#222" stroke-width="0.1">20</text>
<line x1="59.8" y1="220.1" x2="59.8" y2="222.7" stroke="#1a1a1a" stroke-width="0.9"/>
<text x="59.8" y="233.0" font-size="6.6" text-anchor="middle" fill="#222" stroke="#222" stroke-width="0.1">25</text>
<line x1="75.9" y1="220.1" x2="75.9" y2="222.7" stroke="#1a1a1a" stroke-width="0.9"/>
<text x="75.9" y="233.0" font-size="6.6" text-anchor="middle" fill="#222" stroke="#222" stroke-width="0.1">30</text>
<line x1="91.8" y1="220.1" x2="91.8" y2="222.7" stroke="#1a1a1a" stroke-width="0.9"/>
<text x="91.8" y="233.0" font-size="6.6" text-anchor="middle" fill="#222" stroke="#222" stroke-width="0.1">35</text>
<line x1="107.5" y1="220.1" x2="107.5" y2="222.7" stroke="#1a1a1a" stroke-width="0.9"/>
<text x="107.5" y="233.0" font-size="6.6" text-anchor="middle" fill="#222" stroke="#222" stroke-width="0.1">40</text>
<text x="76.3" y="246.2" font-size="7.7" text-anchor="middle" textLength="36.5" lengthAdjust="spacingAndGlyphs" fill="#222" stroke="#2a2a2a" stroke-width="0.18">BMI (kg/m<tspan font-size="4.6" dy="-2.8">2</tspan><tspan dy="2.8">)</tspan></text>
<text x="41.8" y="160.2" font-size="6.8" textLength="50.2" lengthAdjust="spacingAndGlyphs" fill="#222" stroke="#2a2a2a" stroke-width="0.18"><tspan font-style="italic">r</tspan> = 0.54 &#160;&#160;P &lt; .01</text>
<text transform="translate(13.2,187.5) rotate(-90)" x="0" y="0" font-size="8.3" text-anchor="middle" dominant-baseline="central" textLength="60" lengthAdjust="spacingAndGlyphs" fill="#222" stroke="#222" stroke-width="0.1">Plasm PAI1 (ng/ml)</text>
<text x="134.2" y="141.9" font-size="11" font-weight="bold" fill="#111" stroke="#111" stroke-width="0.45">D</text>
<rect x="170.6" y="198.3" width="19.8" height="18.9" fill="#86a5c2"/>
<rect x="203.5" y="174.2" width="19.5" height="43" fill="#e38b9d"/>
<line x1="180.4" y1="194.5" x2="180.4" y2="202.0" stroke="#1c3550" stroke-width="1.1"/>
<line x1="177.7" y1="194.5" x2="183.1" y2="194.5" stroke="#1c3550" stroke-width="1.1"/>
<line x1="177.7" y1="202.0" x2="183.1" y2="202.0" stroke="#1c3550" stroke-width="1.1"/>
<line x1="213.8" y1="170.0" x2="213.8" y2="178.5" stroke="#5e0c24" stroke-width="1.1"/>
<line x1="211.1" y1="170.0" x2="216.5" y2="170.0" stroke="#5e0c24" stroke-width="1.1"/>
<line x1="211.1" y1="178.5" x2="216.5" y2="178.5" stroke="#5e0c24" stroke-width="1.1"/>
<circle cx="177.9" cy="183.1" r="1.8" fill="#34587c" stroke="#0a1522" stroke-width="0.95"/>
<circle cx="176.9" cy="189.8" r="1.8" fill="#34587c" stroke="#0a1522" stroke-width="0.95"/>
<circle cx="179.2" cy="190.2" r="1.8" fill="#34587c" stroke="#0a1522" stroke-width="0.95"/>
<circle cx="182.3" cy="192.1" r="1.8" fill="#34587c" stroke="#0a1522" stroke-width="0.95"/>
<circle cx="184.2" cy="194.0" r="1.8" fill="#34587c" stroke="#0a1522" stroke-width="0.95"/>
<circle cx="179.8" cy="196.5" r="1.8" fill="#34587c" stroke="#0a1522" stroke-width="0.95"/>
<circle cx="179.2" cy="199.0" r="1.8" fill="#34587c" stroke="#0a1522" stroke-width="0.95"/>
<circle cx="180.8" cy="200.4" r="1.8" fill="#34587c" stroke="#0a1522" stroke-width="0.95"/>
<circle cx="181.7" cy="204.8" r="1.8" fill="#34587c" stroke="#0a1522" stroke-width="0.95"/>
<circle cx="177.9" cy="208.1" r="1.8" fill="#34587c" stroke="#0a1522" stroke-width="0.95"/>
<circle cx="180.8" cy="210.6" r="1.8" fill="#34587c" stroke="#0a1522" stroke-width="0.95"/>
<circle cx="182.3" cy="211.9" r="1.8" fill="#34587c" stroke="#0a1522" stroke-width="0.95"/>
<circle cx="215" cy="151.7" r="1.8" fill="#ac1c40" stroke="#46081a" stroke-width="0.95"/>
<circle cx="211.9" cy="166.7" r="1.8" fill="#ac1c40" stroke="#46081a" stroke-width="0.95"/>
<circle cx="210.6" cy="170.6" r="1.8" fill="#ac1c40" stroke="#46081a" stroke-width="0.95"/>
<circle cx="215" cy="170.6" r="1.8" fill="#ac1c40" stroke="#46081a" stroke-width="0.95"/>
<circle cx="216.9" cy="176.4" r="1.8" fill="#ac1c40" stroke="#46081a" stroke-width="0.95"/>
<circle cx="212.5" cy="176.4" r="1.8" fill="#ac1c40" stroke="#46081a" stroke-width="0.95"/>
<circle cx="212.5" cy="181.7" r="1.8" fill="#ac1c40" stroke="#46081a" stroke-width="0.95"/>
<circle cx="213.8" cy="183.7" r="1.8" fill="#ac1c40" stroke="#46081a" stroke-width="0.95"/>
<circle cx="211.2" cy="193.3" r="1.8" fill="#ac1c40" stroke="#46081a" stroke-width="0.95"/>
<line x1="160.6" y1="148.3" x2="160.6" y2="221.0" stroke="#1a1a1a" stroke-width="1.4"/>
<line x1="159.9" y1="220.2" x2="224.5" y2="220.2" stroke="#1a1a1a" stroke-width="1.4"/>
<line x1="157.6" y1="153.7" x2="160.6" y2="153.7" stroke="#1a1a1a" stroke-width="0.9"/>
<text x="154.4" y="156.2" font-size="6.3" text-anchor="end" fill="#2a2a2a" stroke="#2a2a2a" stroke-width="0.18">60</text>
<line x1="157.6" y1="174.8" x2="160.6" y2="174.8" stroke="#1a1a1a" stroke-width="0.9"/>
<text x="154.4" y="177.3" font-size="6.3" text-anchor="end" fill="#2a2a2a" stroke="#2a2a2a" stroke-width="0.18">40</text>
<line x1="157.6" y1="196" x2="160.6" y2="196" stroke="#1a1a1a" stroke-width="0.9"/>
<text x="154.4" y="198.5" font-size="6.3" text-anchor="end" fill="#2a2a2a" stroke="#2a2a2a" stroke-width="0.18">20</text>
<line x1="157.6" y1="217.1" x2="160.6" y2="217.1" stroke="#1a1a1a" stroke-width="0.9"/>
<text x="154.4" y="219.6" font-size="6.3" text-anchor="end" fill="#2a2a2a" stroke="#2a2a2a" stroke-width="0.18">0</text>
<line x1="180.4" y1="220.2" x2="180.4" y2="222.8" stroke="#1a1a1a" stroke-width="0.9"/>
<text x="180.4" y="232.7" font-size="7.0" text-anchor="middle" fill="#222" stroke="#222" stroke-width="0.1">ND</text>
<line x1="213.8" y1="220.2" x2="213.8" y2="222.8" stroke="#1a1a1a" stroke-width="0.9"/>
<text x="213.8" y="232.7" font-size="7.0" text-anchor="middle" fill="#222" stroke="#222" stroke-width="0.1">HFD</text>
<line x1="172.1" y1="148.0" x2="213.8" y2="148.0" stroke="#606060" stroke-width="1.3"/>
<text x="192.95" y="147.6" font-size="7" text-anchor="middle" fill="#444" stroke="#444" stroke-width="0.12">***</text>
<text transform="translate(138.6,182.9) rotate(-90)" x="0" y="0" font-size="8.3" text-anchor="middle" dominant-baseline="central" textLength="60.1" lengthAdjust="spacingAndGlyphs" fill="#222" stroke="#222" stroke-width="0.1">Plasm PAI1 (ng/ml)</text>
<text x="241.3" y="142" font-size="11" font-weight="bold" fill="#111" stroke="#111" stroke-width="0.45">E</text>
<path d="M271.80,202.60 L274.85,201.52 L277.89,200.42 L280.94,199.30 L283.98,198.16 L287.03,197.00 L290.07,195.82 L293.12,194.60 L296.17,193.34 L299.21,192.05 L302.26,190.72 L305.30,189.34 L308.35,187.92 L311.40,186.47 L314.44,184.97 L317.49,183.45 L320.53,181.90 L323.58,180.32 L326.62,178.72 L329.67,177.11 L332.72,175.48 L335.76,173.83 L338.81,172.18 L341.85,170.52 L344.90,168.85 L344.90,181.15 L341.85,182.20 L338.81,183.25 L335.76,184.32 L332.72,185.39 L329.67,186.48 L326.62,187.58 L323.58,188.70 L320.53,189.84 L317.49,191.00 L314.44,192.19 L311.40,193.42 L308.35,194.68 L305.30,195.98 L302.26,197.32 L299.21,198.70 L296.17,200.12 L293.12,201.59 L290.07,203.08 L287.03,204.61 L283.98,206.17 L280.94,207.75 L277.89,209.35 L274.85,210.97 L271.80,212.60 Z" fill="#ececec"/>
<line x1="271.8" y1="207.6" x2="344.9" y2="175" stroke="#1a1a1a" stroke-width="1.15"/>
<circle cx="271.5" cy="217.2" r="1.05" fill="#86b6cc"/>
<circle cx="273.4" cy="215.9" r="1.05" fill="#86b6cc"/>
<circle cx="274.3" cy="214.2" r="1.05" fill="#86b6cc"/>
<circle cx="275.7" cy="210.8" r="1.05" fill="#86b6cc"/>
<circle cx="275" cy="198.1" r="1.05" fill="#86b6cc"/>
<circle cx="276.2" cy="199.7" r="1.05" fill="#86b6cc"/>
<circle cx="279.6" cy="196.5" r="1.05" fill="#86b6cc"/>
<circle cx="283.5" cy="196.9" r="1.05" fill="#86b6cc"/>
<circle cx="283.5" cy="199.7" r="1.05" fill="#86b6cc"/>
<circle cx="291.8" cy="190" r="1.05" fill="#86b6cc"/>
<circle cx="321.2" cy="174.3" r="1.05" fill="#d98e9e"/>
<circle cx="323.5" cy="178.5" r="1.05" fill="#d98e9e"/>
<circle cx="328.8" cy="178.5" r="1.05" fill="#d98e9e"/>
<circle cx="332.7" cy="177.3" r="1.05" fill="#d98e9e"/>
<circle cx="331.5" cy="183.1" r="1.05" fill="#d98e9e"/>
<circle cx="337.3" cy="184.2" r="1.05" fill="#d98e9e"/>
<circle cx="324.6" cy="190.5" r="1.05" fill="#d98e9e"/>
<circle cx="335" cy="188.8" r="1.05" fill="#d98e9e"/>
<circle cx="335" cy="199.2" r="1.05" fill="#d98e9e"/>
<circle cx="345.4" cy="160" r="1.05" fill="#d98e9e"/>
<line x1="267.9" y1="156.5" x2="267.9" y2="221.3" stroke="#1a1a1a" stroke-width="1.4"/>
<line x1="267.2" y1="220.5" x2="345.4" y2="220.5" stroke="#1a1a1a" stroke-width="1.4"/>
<line x1="264.9" y1="162.3" x2="267.9" y2="162.3" stroke="#1a1a1a" stroke-width="0.9"/>
<text x="261.7" y="164.8" font-size="6.3" text-anchor="end" fill="#2a2a2a" stroke="#2a2a2a" stroke-width="0.18">60</text>
<line x1="264.9" y1="182.2" x2="267.9" y2="182.2" stroke="#1a1a1a" stroke-width="0.9"/>
<text x="261.7" y="184.7" font-size="6.3" text-anchor="end" fill="#2a2a2a" stroke="#2a2a2a" stroke-width="0.18">40</text>
<line x1="264.9" y1="202.2" x2="267.9" y2="202.2" stroke="#1a1a1a" stroke-width="0.9"/>
<text x="261.7" y="204.7" font-size="6.3" text-anchor="end" fill="#2a2a2a" stroke="#2a2a2a" stroke-width="0.18">20</text>
<line x1="288.8" y1="220.5" x2="288.8" y2="223.1" stroke="#1a1a1a" stroke-width="0.9"/>
<text x="288.8" y="233.4" font-size="6.6" text-anchor="middle" fill="#222" stroke="#222" stroke-width="0.1">30</text>
<line x1="314.9" y1="220.5" x2="314.9" y2="223.1" stroke="#1a1a1a" stroke-width="0.9"/>
<text x="314.9" y="233.4" font-size="6.6" text-anchor="middle" fill="#222" stroke="#222" stroke-width="0.1">40</text>
<line x1="340.8" y1="220.5" x2="340.8" y2="223.1" stroke="#1a1a1a" stroke-width="0.9"/>
<text x="340.8" y="233.4" font-size="6.6" text-anchor="middle" fill="#222" stroke="#222" stroke-width="0.1">50</text>
<text x="314.6" y="245.9" font-size="7.9" text-anchor="middle" textLength="33" lengthAdjust="spacingAndGlyphs" fill="#222" stroke="#2a2a2a" stroke-width="0.18">Weight (g)</text>
<text x="275.7" y="162" font-size="6.8" textLength="54.7" lengthAdjust="spacingAndGlyphs" fill="#222" stroke="#2a2a2a" stroke-width="0.18">r = 0.83 &#160;&#160;<tspan font-style="italic">P</tspan> &lt; .001</text>
<text transform="translate(245.8,188.5) rotate(-90)" x="0" y="0" font-size="8.3" text-anchor="middle" dominant-baseline="central" textLength="60" lengthAdjust="spacingAndGlyphs" fill="#222" stroke="#222" stroke-width="0.1">Plasm PAI1 (ng/ml)</text>
<text x="9.0" y="274.2" font-size="11" font-weight="bold" fill="#111" stroke="#111" stroke-width="0.45">F</text>
<rect x="44.6" y="298.8" width="19.2" height="51.9" fill="#86a5c2"/>
<rect x="76.9" y="304" width="19.3" height="46.7" fill="#e38b9d"/>
<line x1="53.8" y1="295.5" x2="53.8" y2="302.0" stroke="#1c3550" stroke-width="1.1"/>
<line x1="51.1" y1="295.5" x2="56.5" y2="295.5" stroke="#1c3550" stroke-width="1.1"/>
<line x1="51.1" y1="302.0" x2="56.5" y2="302.0" stroke="#1c3550" stroke-width="1.1"/>
<line x1="86.2" y1="300.5" x2="86.2" y2="307.5" stroke="#5e0c24" stroke-width="1.1"/>
<line x1="83.5" y1="300.5" x2="88.9" y2="300.5" stroke="#5e0c24" stroke-width="1.1"/>
<line x1="83.5" y1="307.5" x2="88.9" y2="307.5" stroke="#5e0c24" stroke-width="1.1"/>
<circle cx="50.4" cy="285.6" r="1.8" fill="#34587c" stroke="#0a1522" stroke-width="0.95"/>
<circle cx="54.8" cy="285.0" r="1.8" fill="#34587c" stroke="#0a1522" stroke-width="0.95"/>
<circle cx="51.9" cy="288.3" r="1.8" fill="#34587c" stroke="#0a1522" stroke-width="0.95"/>
<circle cx="52.3" cy="295.6" r="1.8" fill="#34587c" stroke="#0a1522" stroke-width="0.95"/>
<circle cx="50.4" cy="297.9" r="1.8" fill="#34587c" stroke="#0a1522" stroke-width="0.95"/>
<circle cx="53.5" cy="299.0" r="1.8" fill="#34587c" stroke="#0a1522" stroke-width="0.95"/>
<circle cx="56.7" cy="299.8" r="1.8" fill="#34587c" stroke="#0a1522" stroke-width="0.95"/>
<circle cx="51" cy="301.4" r="1.8" fill="#34587c" stroke="#0a1522" stroke-width="0.95"/>
<circle cx="55.4" cy="302.9" r="1.8" fill="#34587c" stroke="#0a1522" stroke-width="0.95"/>
<circle cx="53.8" cy="306.7" r="1.8" fill="#34587c" stroke="#0a1522" stroke-width="0.95"/>
<circle cx="53.8" cy="310.0" r="1.8" fill="#34587c" stroke="#0a1522" stroke-width="0.95"/>
<circle cx="53.5" cy="318.3" r="1.8" fill="#34587c" stroke="#0a1522" stroke-width="0.95"/>
<circle cx="85.6" cy="287.9" r="1.8" fill="#ac1c40" stroke="#46081a" stroke-width="0.95"/>
<circle cx="83.1" cy="295.2" r="1.8" fill="#ac1c40" stroke="#46081a" stroke-width="0.95"/>
<circle cx="85.6" cy="300.4" r="1.8" fill="#ac1c40" stroke="#46081a" stroke-width="0.95"/>
<circle cx="88.8" cy="302.9" r="1.8" fill="#ac1c40" stroke="#46081a" stroke-width="0.95"/>
<circle cx="84.2" cy="305.6" r="1.8" fill="#ac1c40" stroke="#46081a" stroke-width="0.95"/>
<circle cx="86.2" cy="307.5" r="1.8" fill="#ac1c40" stroke="#46081a" stroke-width="0.95"/>
<circle cx="81.7" cy="310.0" r="1.8" fill="#ac1c40" stroke="#46081a" stroke-width="0.95"/>
<circle cx="84.6" cy="311.0" r="1.8" fill="#ac1c40" stroke="#46081a" stroke-width="0.95"/>
<circle cx="87.5" cy="313.3" r="1.8" fill="#ac1c40" stroke="#46081a" stroke-width="0.95"/>
<line x1="34.6" y1="281.5" x2="34.6" y2="354.8" stroke="#1a1a1a" stroke-width="1.4"/>
<line x1="33.9" y1="354.0" x2="98" y2="354.0" stroke="#1a1a1a" stroke-width="1.4"/>
<line x1="31.6" y1="296" x2="34.6" y2="296" stroke="#1a1a1a" stroke-width="0.9"/>
<text x="28.1" y="298.5" font-size="6.3" text-anchor="end" fill="#2a2a2a" stroke="#2a2a2a" stroke-width="0.18">90</text>
<line x1="31.6" y1="314" x2="34.6" y2="314" stroke="#1a1a1a" stroke-width="0.9"/>
<text x="28.1" y="316.5" font-size="6.3" text-anchor="end" fill="#2a2a2a" stroke="#2a2a2a" stroke-width="0.18">60</text>
<line x1="31.6" y1="332.3" x2="34.6" y2="332.3" stroke="#1a1a1a" stroke-width="0.9"/>
<text x="28.1" y="334.8" font-size="6.3" text-anchor="end" fill="#2a2a2a" stroke="#2a2a2a" stroke-width="0.18">30</text>
<line x1="31.6" y1="350.6" x2="34.6" y2="350.6" stroke="#1a1a1a" stroke-width="0.9"/>
<text x="28.1" y="353.1" font-size="6.3" text-anchor="end" fill="#2a2a2a" stroke="#2a2a2a" stroke-width="0.18">0</text>
<line x1="53.8" y1="354.0" x2="53.8" y2="356.6" stroke="#1a1a1a" stroke-width="0.9"/>
<text x="53.8" y="366.5" font-size="7.0" text-anchor="middle" fill="#222" stroke="#222" stroke-width="0.1">ND</text>
<line x1="86.2" y1="354.0" x2="86.2" y2="356.6" stroke="#1a1a1a" stroke-width="0.9"/>
<text x="86.2" y="366.5" font-size="7.0" text-anchor="middle" fill="#222" stroke="#222" stroke-width="0.1">HFD</text>
<line x1="48.1" y1="280.3" x2="90.4" y2="280.3" stroke="#606060" stroke-width="1.3"/>
<text x="69.25" y="279.2" font-size="6.3" text-anchor="middle" fill="#444" stroke="#444" stroke-width="0.12">n.s.</text>
<text transform="translate(11.8,321.8) rotate(-90)" x="0" y="0" font-size="8.3" text-anchor="middle" dominant-baseline="central" textLength="69.3" lengthAdjust="spacingAndGlyphs" fill="#222" stroke="#222" stroke-width="0.1">Plasm a2&#8722;AP (&#181;g/mL)</text>
<rect x="144.2" y="320.8" width="18.9" height="29.9" fill="#86a5c2"/>
<rect x="175.6" y="311.2" width="19" height="39.5" fill="#e38b9d"/>
<line x1="152.9" y1="317.5" x2="152.9" y2="324.0" stroke="#1c3550" stroke-width="1.1"/>
<line x1="150.2" y1="317.5" x2="155.6" y2="317.5" stroke="#1c3550" stroke-width="1.1"/>
<line x1="150.2" y1="324.0" x2="155.6" y2="324.0" stroke="#1c3550" stroke-width="1.1"/>
<line x1="184.6" y1="307.5" x2="184.6" y2="315.0" stroke="#5e0c24" stroke-width="1.1"/>
<line x1="181.9" y1="307.5" x2="187.3" y2="307.5" stroke="#5e0c24" stroke-width="1.1"/>
<line x1="181.9" y1="315.0" x2="187.3" y2="315.0" stroke="#5e0c24" stroke-width="1.1"/>
<circle cx="151.5" cy="307.1" r="1.8" fill="#34587c" stroke="#0a1522" stroke-width="0.95"/>
<circle cx="152.3" cy="309.4" r="1.8" fill="#34587c" stroke="#0a1522" stroke-width="0.95"/>
<circle cx="151.5" cy="311.0" r="1.8" fill="#34587c" stroke="#0a1522" stroke-width="0.95"/>
<circle cx="152.9" cy="312.5" r="1.8" fill="#34587c" stroke="#0a1522" stroke-width="0.95"/>
<circle cx="150.4" cy="318.7" r="1.8" fill="#34587c" stroke="#0a1522" stroke-width="0.95"/>
<circle cx="155.8" cy="317.7" r="1.8" fill="#34587c" stroke="#0a1522" stroke-width="0.95"/>
<circle cx="147.7" cy="322.9" r="1.8" fill="#34587c" stroke="#0a1522" stroke-width="0.95"/>
<circle cx="152.9" cy="322.1" r="1.8" fill="#34587c" stroke="#0a1522" stroke-width="0.95"/>
<circle cx="151.5" cy="319.6" r="1.8" fill="#34587c" stroke="#0a1522" stroke-width="0.95"/>
<circle cx="154.2" cy="323.5" r="1.8" fill="#34587c" stroke="#0a1522" stroke-width="0.95"/>
<circle cx="156.2" cy="326.0" r="1.8" fill="#34587c" stroke="#0a1522" stroke-width="0.95"/>
<circle cx="152.9" cy="326.7" r="1.8" fill="#34587c" stroke="#0a1522" stroke-width="0.95"/>
<circle cx="150.4" cy="347.9" r="1.8" fill="#34587c" stroke="#0a1522" stroke-width="0.95"/>
<circle cx="183.7" cy="285.6" r="1.8" fill="#ac1c40" stroke="#46081a" stroke-width="0.95"/>
<circle cx="185.6" cy="299.8" r="1.8" fill="#ac1c40" stroke="#46081a" stroke-width="0.95"/>
<circle cx="186.2" cy="304.8" r="1.8" fill="#ac1c40" stroke="#46081a" stroke-width="0.95"/>
<circle cx="183.1" cy="308.7" r="1.8" fill="#ac1c40" stroke="#46081a" stroke-width="0.95"/>
<circle cx="186.2" cy="311.4" r="1.8" fill="#ac1c40" stroke="#46081a" stroke-width="0.95"/>
<circle cx="184.2" cy="313.9" r="1.8" fill="#ac1c40" stroke="#46081a" stroke-width="0.95"/>
<circle cx="182.3" cy="319.6" r="1.8" fill="#ac1c40" stroke="#46081a" stroke-width="0.95"/>
<circle cx="186.2" cy="320.2" r="1.8" fill="#ac1c40" stroke="#46081a" stroke-width="0.95"/>
<circle cx="184.6" cy="321.5" r="1.8" fill="#ac1c40" stroke="#46081a" stroke-width="0.95"/>
<circle cx="186.9" cy="324.0" r="1.8" fill="#ac1c40" stroke="#46081a" stroke-width="0.95"/>
<line x1="134.6" y1="281.5" x2="134.6" y2="354.8" stroke="#1a1a1a" stroke-width="1.4"/>
<line x1="133.9" y1="354.0" x2="195.8" y2="354.0" stroke="#1a1a1a" stroke-width="1.4"/>
<line x1="131.6" y1="289.2" x2="134.6" y2="289.2" stroke="#1a1a1a" stroke-width="0.9"/>
<text x="127.8" y="291.7" font-size="6.3" text-anchor="end" fill="#2a2a2a" stroke="#2a2a2a" stroke-width="0.18">30</text>
<line x1="131.6" y1="309.8" x2="134.6" y2="309.8" stroke="#1a1a1a" stroke-width="0.9"/>
<text x="127.8" y="312.3" font-size="6.3" text-anchor="end" fill="#2a2a2a" stroke="#2a2a2a" stroke-width="0.18">20</text>
<line x1="131.6" y1="330" x2="134.6" y2="330" stroke="#1a1a1a" stroke-width="0.9"/>
<text x="127.8" y="332.5" font-size="6.3" text-anchor="end" fill="#2a2a2a" stroke="#2a2a2a" stroke-width="0.18">10</text>
<line x1="131.6" y1="350.6" x2="134.6" y2="350.6" stroke="#1a1a1a" stroke-width="0.9"/>
<text x="127.8" y="353.1" font-size="6.3" text-anchor="end" fill="#2a2a2a" stroke="#2a2a2a" stroke-width="0.18">0</text>
<line x1="152.9" y1="354.0" x2="152.9" y2="356.6" stroke="#1a1a1a" stroke-width="0.9"/>
<text x="152.9" y="366.5" font-size="7.0" text-anchor="middle" fill="#222" stroke="#222" stroke-width="0.1">ND</text>
<line x1="184.6" y1="354.0" x2="184.6" y2="356.6" stroke="#1a1a1a" stroke-width="0.9"/>
<text x="184.6" y="366.5" font-size="7.0" text-anchor="middle" fill="#222" stroke="#222" stroke-width="0.1">HFD</text>
<line x1="147.1" y1="280.9" x2="188.8" y2="280.9" stroke="#606060" stroke-width="1.3"/>
<text x="167.95" y="276.6" font-size="7.0" text-anchor="middle" fill="#444" stroke="#444" stroke-width="0.12">P = .063</text>
<text transform="translate(112.1,317.5) rotate(-90)" x="0" y="0" font-size="8.3" text-anchor="middle" dominant-baseline="central" textLength="57.8" lengthAdjust="spacingAndGlyphs" fill="#222" stroke="#222" stroke-width="0.1">Plasm tPA (ng/mL)</text>
<rect x="246.2" y="306.9" width="19.2" height="43.8" fill="#86a5c2"/>
<rect x="278.5" y="299.2" width="18.6" height="51.5" fill="#e38b9d"/>
<line x1="255.4" y1="303.5" x2="255.4" y2="310.5" stroke="#1c3550" stroke-width="1.1"/>
<line x1="252.7" y1="303.5" x2="258.1" y2="303.5" stroke="#1c3550" stroke-width="1.1"/>
<line x1="252.7" y1="310.5" x2="258.1" y2="310.5" stroke="#1c3550" stroke-width="1.1"/>
<line x1="286.9" y1="294.0" x2="286.9" y2="304.5" stroke="#5e0c24" stroke-width="1.1"/>
<line x1="284.2" y1="294.0" x2="289.6" y2="294.0" stroke="#5e0c24" stroke-width="1.1"/>
<line x1="284.2" y1="304.5" x2="289.6" y2="304.5" stroke="#5e0c24" stroke-width="1.1"/>
<circle cx="254.8" cy="292.1" r="1.8" fill="#34587c" stroke="#0a1522" stroke-width="0.95"/>
<circle cx="258.1" cy="292.7" r="1.8" fill="#34587c" stroke="#0a1522" stroke-width="0.95"/>
<circle cx="257.3" cy="296.5" r="1.8" fill="#34587c" stroke="#0a1522" stroke-width="0.95"/>
<circle cx="253.5" cy="305.6" r="1.8" fill="#34587c" stroke="#0a1522" stroke-width="0.95"/>
<circle cx="257.7" cy="306.2" r="1.8" fill="#34587c" stroke="#0a1522" stroke-width="0.95"/>
<circle cx="252.9" cy="307.5" r="1.8" fill="#34587c" stroke="#0a1522" stroke-width="0.95"/>
<circle cx="256.2" cy="307.1" r="1.8" fill="#34587c" stroke="#0a1522" stroke-width="0.95"/>
<circle cx="260.6" cy="306.7" r="1.8" fill="#34587c" stroke="#0a1522" stroke-width="0.95"/>
<circle cx="262.5" cy="309.0" r="1.8" fill="#34587c" stroke="#0a1522" stroke-width="0.95"/>
<circle cx="259.2" cy="309.0" r="1.8" fill="#34587c" stroke="#0a1522" stroke-width="0.95"/>
<circle cx="254.8" cy="313.9" r="1.8" fill="#34587c" stroke="#0a1522" stroke-width="0.95"/>
<circle cx="254.8" cy="320.2" r="1.8" fill="#34587c" stroke="#0a1522" stroke-width="0.95"/>
<circle cx="257.7" cy="323.5" r="1.8" fill="#34587c" stroke="#0a1522" stroke-width="0.95"/>
<circle cx="286.5" cy="285.6" r="1.8" fill="#ac1c40" stroke="#46081a" stroke-width="0.95"/>
<circle cx="290.4" cy="285.0" r="1.8" fill="#ac1c40" stroke="#46081a" stroke-width="0.95"/>
<circle cx="289.4" cy="288.3" r="1.8" fill="#ac1c40" stroke="#46081a" stroke-width="0.95"/>
<circle cx="288.1" cy="292.1" r="1.8" fill="#ac1c40" stroke="#46081a" stroke-width="0.95"/>
<circle cx="288.1" cy="299.0" r="1.8" fill="#ac1c40" stroke="#46081a" stroke-width="0.95"/>
<circle cx="286.2" cy="304.2" r="1.8" fill="#ac1c40" stroke="#46081a" stroke-width="0.95"/>
<circle cx="290.4" cy="304.8" r="1.8" fill="#ac1c40" stroke="#46081a" stroke-width="0.95"/>
<circle cx="287.5" cy="306.7" r="1.8" fill="#ac1c40" stroke="#46081a" stroke-width="0.95"/>
<circle cx="288.8" cy="312.5" r="1.8" fill="#ac1c40" stroke="#46081a" stroke-width="0.95"/>
<circle cx="285" cy="317.1" r="1.8" fill="#ac1c40" stroke="#46081a" stroke-width="0.95"/>
<line x1="236.2" y1="281.9" x2="236.2" y2="354.8" stroke="#1a1a1a" stroke-width="1.4"/>
<line x1="235.5" y1="354.0" x2="297.8" y2="354.0" stroke="#1a1a1a" stroke-width="1.4"/>
<line x1="233.2" y1="296.3" x2="236.2" y2="296.3" stroke="#1a1a1a" stroke-width="0.9"/>
<text x="230.0" y="298.8" font-size="6.3" text-anchor="end" fill="#2a2a2a" stroke="#2a2a2a" stroke-width="0.18">150</text>
<line x1="233.2" y1="314.6" x2="236.2" y2="314.6" stroke="#1a1a1a" stroke-width="0.9"/>
<text x="230.0" y="317.1" font-size="6.3" text-anchor="end" fill="#2a2a2a" stroke="#2a2a2a" stroke-width="0.18">100</text>
<line x1="233.2" y1="332.9" x2="236.2" y2="332.9" stroke="#1a1a1a" stroke-width="0.9"/>
<text x="230.0" y="335.4" font-size="6.3" text-anchor="end" fill="#2a2a2a" stroke="#2a2a2a" stroke-width="0.18">50</text>
<line x1="233.2" y1="350.6" x2="236.2" y2="350.6" stroke="#1a1a1a" stroke-width="0.9"/>
<text x="230.0" y="353.1" font-size="6.3" text-anchor="end" fill="#2a2a2a" stroke="#2a2a2a" stroke-width="0.18">0</text>
<line x1="255.4" y1="354.0" x2="255.4" y2="356.6" stroke="#1a1a1a" stroke-width="0.9"/>
<text x="255.4" y="366.5" font-size="7.0" text-anchor="middle" fill="#222" stroke="#222" stroke-width="0.1">ND</text>
<line x1="286.9" y1="354.0" x2="286.9" y2="356.6" stroke="#1a1a1a" stroke-width="0.9"/>
<text x="286.9" y="366.5" font-size="7.0" text-anchor="middle" fill="#222" stroke="#222" stroke-width="0.1">HFD</text>
<line x1="250.4" y1="280.3" x2="292.7" y2="280.3" stroke="#606060" stroke-width="1.3"/>
<text x="271.55" y="279.2" font-size="6.3" text-anchor="middle" fill="#444" stroke="#444" stroke-width="0.12">n.s.</text>
<text transform="translate(210.0,321.8) rotate(-90)" x="0" y="0" font-size="8.3" text-anchor="middle" dominant-baseline="central" textLength="57.8" lengthAdjust="spacingAndGlyphs" fill="#222" stroke="#222" stroke-width="0.1">Plasm Plg (&#181;g/mL)</text>
<rect x="350" y="308.5" width="19.6" height="42.2" fill="#86a5c2"/>
<rect x="383.7" y="303.9" width="20.1" height="46.8" fill="#e38b9d"/>
<line x1="360" y1="305.0" x2="360" y2="312.0" stroke="#1c3550" stroke-width="1.1"/>
<line x1="357.3" y1="305.0" x2="362.7" y2="305.0" stroke="#1c3550" stroke-width="1.1"/>
<line x1="357.3" y1="312.0" x2="362.7" y2="312.0" stroke="#1c3550" stroke-width="1.1"/>
<line x1="393.4" y1="300.0" x2="393.4" y2="308.0" stroke="#5e0c24" stroke-width="1.1"/>
<line x1="390.7" y1="300.0" x2="396.1" y2="300.0" stroke="#5e0c24" stroke-width="1.1"/>
<line x1="390.7" y1="308.0" x2="396.1" y2="308.0" stroke="#5e0c24" stroke-width="1.1"/>
<circle cx="361.9" cy="285.6" r="1.8" fill="#34587c" stroke="#0a1522" stroke-width="0.95"/>
<circle cx="358.1" cy="293.3" r="1.8" fill="#34587c" stroke="#0a1522" stroke-width="0.95"/>
<circle cx="356.7" cy="304.2" r="1.8" fill="#34587c" stroke="#0a1522" stroke-width="0.95"/>
<circle cx="359.2" cy="306.2" r="1.8" fill="#34587c" stroke="#0a1522" stroke-width="0.95"/>
<circle cx="361.2" cy="306.2" r="1.8" fill="#34587c" stroke="#0a1522" stroke-width="0.95"/>
<circle cx="363.5" cy="307.5" r="1.8" fill="#34587c" stroke="#0a1522" stroke-width="0.95"/>
<circle cx="357.3" cy="312.5" r="1.8" fill="#34587c" stroke="#0a1522" stroke-width="0.95"/>
<circle cx="360" cy="311.0" r="1.8" fill="#34587c" stroke="#0a1522" stroke-width="0.95"/>
<circle cx="357.7" cy="316.7" r="1.8" fill="#34587c" stroke="#0a1522" stroke-width="0.95"/>
<circle cx="361.2" cy="318.7" r="1.8" fill="#34587c" stroke="#0a1522" stroke-width="0.95"/>
<circle cx="361.5" cy="320.2" r="1.8" fill="#34587c" stroke="#0a1522" stroke-width="0.95"/>
<circle cx="392.9" cy="288.1" r="1.8" fill="#ac1c40" stroke="#46081a" stroke-width="0.95"/>
<circle cx="392.5" cy="291.3" r="1.8" fill="#ac1c40" stroke="#46081a" stroke-width="0.95"/>
<circle cx="394.7" cy="298.1" r="1.8" fill="#ac1c40" stroke="#46081a" stroke-width="0.95"/>
<circle cx="395.6" cy="299.9" r="1.8" fill="#ac1c40" stroke="#46081a" stroke-width="0.95"/>
<circle cx="390.1" cy="302.3" r="1.8" fill="#ac1c40" stroke="#46081a" stroke-width="0.95"/>
<circle cx="394.7" cy="302.3" r="1.8" fill="#ac1c40" stroke="#46081a" stroke-width="0.95"/>
<circle cx="401.1" cy="302.7" r="1.8" fill="#ac1c40" stroke="#46081a" stroke-width="0.95"/>
<circle cx="391.9" cy="309.1" r="1.8" fill="#ac1c40" stroke="#46081a" stroke-width="0.95"/>
<circle cx="396.5" cy="310.9" r="1.8" fill="#ac1c40" stroke="#46081a" stroke-width="0.95"/>
<circle cx="392.5" cy="336.4" r="1.8" fill="#ac1c40" stroke="#46081a" stroke-width="0.95"/>
<line x1="340.4" y1="282.9" x2="340.4" y2="354.8" stroke="#1a1a1a" stroke-width="1.4"/>
<line x1="339.7" y1="354.0" x2="406.5" y2="354.0" stroke="#1a1a1a" stroke-width="1.4"/>
<line x1="337.4" y1="286.3" x2="340.4" y2="286.3" stroke="#1a1a1a" stroke-width="0.9"/>
<text x="333.4" y="288.8" font-size="6.3" text-anchor="end" fill="#2a2a2a" stroke="#2a2a2a" stroke-width="0.18">200</text>
<line x1="337.4" y1="302.7" x2="340.4" y2="302.7" stroke="#1a1a1a" stroke-width="0.9"/>
<text x="333.4" y="305.2" font-size="6.3" text-anchor="end" fill="#2a2a2a" stroke="#2a2a2a" stroke-width="0.18">150</text>
<line x1="337.4" y1="318.8" x2="340.4" y2="318.8" stroke="#1a1a1a" stroke-width="0.9"/>
<text x="333.4" y="321.3" font-size="6.3" text-anchor="end" fill="#2a2a2a" stroke="#2a2a2a" stroke-width="0.18">100</text>
<line x1="337.4" y1="334.8" x2="340.4" y2="334.8" stroke="#1a1a1a" stroke-width="0.9"/>
<text x="333.4" y="337.3" font-size="6.3" text-anchor="end" fill="#2a2a2a" stroke="#2a2a2a" stroke-width="0.18">50</text>
<line x1="337.4" y1="350.6" x2="340.4" y2="350.6" stroke="#1a1a1a" stroke-width="0.9"/>
<text x="333.4" y="353.1" font-size="6.3" text-anchor="end" fill="#2a2a2a" stroke="#2a2a2a" stroke-width="0.18">0</text>
<line x1="360" y1="354.0" x2="360" y2="356.6" stroke="#1a1a1a" stroke-width="0.9"/>
<text x="360" y="366.5" font-size="7.0" text-anchor="middle" fill="#222" stroke="#222" stroke-width="0.1">ND</text>
<line x1="393.4" y1="354.0" x2="393.4" y2="356.6" stroke="#1a1a1a" stroke-width="0.9"/>
<text x="393.4" y="366.5" font-size="7.0" text-anchor="middle" fill="#222" stroke="#222" stroke-width="0.1">HFD</text>
<line x1="355.8" y1="281.1" x2="398" y2="281.1" stroke="#606060" stroke-width="1.3"/>
<text x="376.9" y="280.0" font-size="6.3" text-anchor="middle" fill="#444" stroke="#444" stroke-width="0.12">n.s.</text>
<text transform="translate(314.3,316.0) rotate(-90)" x="0" y="0" font-size="8.3" text-anchor="middle" dominant-baseline="central" textLength="80.5" lengthAdjust="spacingAndGlyphs" fill="#222" stroke="#222" stroke-width="0.1">Plasm fibrinogen (mg/dL)</text>
<text x="8.3" y="394.4" font-size="11" font-weight="bold" fill="#111" stroke="#111" stroke-width="0.45">G</text>
<rect x="45.5" y="448.1" width="20.5" height="21.9" fill="#86a5c2"/>
<rect x="78.3" y="424.4" width="19.4" height="45.6" fill="#e38b9d"/>
<line x1="56.1" y1="445.0" x2="56.1" y2="451.5" stroke="#1c3550" stroke-width="1.1"/>
<line x1="53.4" y1="445.0" x2="58.8" y2="445.0" stroke="#1c3550" stroke-width="1.1"/>
<line x1="53.4" y1="451.5" x2="58.8" y2="451.5" stroke="#1c3550" stroke-width="1.1"/>
<line x1="88.4" y1="419.0" x2="88.4" y2="430.0" stroke="#5e0c24" stroke-width="1.1"/>
<line x1="85.7" y1="419.0" x2="91.1" y2="419.0" stroke="#5e0c24" stroke-width="1.1"/>
<line x1="85.7" y1="430.0" x2="91.1" y2="430.0" stroke="#5e0c24" stroke-width="1.1"/>
<circle cx="56.1" cy="432.0" r="1.8" fill="#34587c" stroke="#0a1522" stroke-width="0.95"/>
<circle cx="57.5" cy="435.2" r="1.8" fill="#34587c" stroke="#0a1522" stroke-width="0.95"/>
<circle cx="52.5" cy="442.6" r="1.8" fill="#34587c" stroke="#0a1522" stroke-width="0.95"/>
<circle cx="55.4" cy="443.2" r="1.8" fill="#34587c" stroke="#0a1522" stroke-width="0.95"/>
<circle cx="58.8" cy="443.2" r="1.8" fill="#34587c" stroke="#0a1522" stroke-width="0.95"/>
<circle cx="54.6" cy="446.2" r="1.8" fill="#34587c" stroke="#0a1522" stroke-width="0.95"/>
<circle cx="57.5" cy="449.6" r="1.8" fill="#34587c" stroke="#0a1522" stroke-width="0.95"/>
<circle cx="51.2" cy="453.2" r="1.8" fill="#34587c" stroke="#0a1522" stroke-width="0.95"/>
<circle cx="54.6" cy="454.2" r="1.8" fill="#34587c" stroke="#0a1522" stroke-width="0.95"/>
<circle cx="58.2" cy="454.2" r="1.8" fill="#34587c" stroke="#0a1522" stroke-width="0.95"/>
<circle cx="56.1" cy="462.7" r="1.8" fill="#34587c" stroke="#0a1522" stroke-width="0.95"/>
<circle cx="87.6" cy="403.2" r="1.8" fill="#ac1c40" stroke="#46081a" stroke-width="0.95"/>
<circle cx="88.8" cy="408.0" r="1.8" fill="#ac1c40" stroke="#46081a" stroke-width="0.95"/>
<circle cx="86.1" cy="410.3" r="1.8" fill="#ac1c40" stroke="#46081a" stroke-width="0.95"/>
<circle cx="91.1" cy="410.3" r="1.8" fill="#ac1c40" stroke="#46081a" stroke-width="0.95"/>
<circle cx="87.2" cy="419.3" r="1.8" fill="#ac1c40" stroke="#46081a" stroke-width="0.95"/>
<circle cx="85.7" cy="427.8" r="1.8" fill="#ac1c40" stroke="#46081a" stroke-width="0.95"/>
<circle cx="86.3" cy="436.3" r="1.8" fill="#ac1c40" stroke="#46081a" stroke-width="0.95"/>
<circle cx="91" cy="436.9" r="1.8" fill="#ac1c40" stroke="#46081a" stroke-width="0.95"/>
<circle cx="85.7" cy="442.6" r="1.8" fill="#ac1c40" stroke="#46081a" stroke-width="0.95"/>
<circle cx="89.9" cy="440.5" r="1.8" fill="#ac1c40" stroke="#46081a" stroke-width="0.95"/>
<circle cx="88.4" cy="445.8" r="1.8" fill="#ac1c40" stroke="#46081a" stroke-width="0.95"/>
<line x1="35.5" y1="400.1" x2="35.5" y2="473.9" stroke="#1a1a1a" stroke-width="1.4"/>
<line x1="34.8" y1="473.1" x2="100.5" y2="473.1" stroke="#1a1a1a" stroke-width="1.4"/>
<line x1="32.5" y1="412.8" x2="35.5" y2="412.8" stroke="#1a1a1a" stroke-width="0.9"/>
<text x="29.3" y="415.3" font-size="6.3" text-anchor="end" fill="#2a2a2a" stroke="#2a2a2a" stroke-width="0.18">7.5</text>
<line x1="32.5" y1="431.4" x2="35.5" y2="431.4" stroke="#1a1a1a" stroke-width="0.9"/>
<text x="29.3" y="433.9" font-size="6.3" text-anchor="end" fill="#2a2a2a" stroke="#2a2a2a" stroke-width="0.18">5.0</text>
<line x1="32.5" y1="450.4" x2="35.5" y2="450.4" stroke="#1a1a1a" stroke-width="0.9"/>
<text x="29.3" y="452.9" font-size="6.3" text-anchor="end" fill="#2a2a2a" stroke="#2a2a2a" stroke-width="0.18">2.5</text>
<line x1="32.5" y1="469.9" x2="35.5" y2="469.9" stroke="#1a1a1a" stroke-width="0.9"/>
<text x="29.3" y="472.4" font-size="6.3" text-anchor="end" fill="#2a2a2a" stroke="#2a2a2a" stroke-width="0.18">0.0</text>
<line x1="56.1" y1="473.1" x2="56.1" y2="475.7" stroke="#1a1a1a" stroke-width="0.9"/>
<text x="56.1" y="485.6" font-size="7.0" text-anchor="middle" fill="#222" stroke="#222" stroke-width="0.1">ND</text>
<line x1="88.4" y1="473.1" x2="88.4" y2="475.7" stroke="#1a1a1a" stroke-width="0.9"/>
<text x="88.4" y="485.6" font-size="7.0" text-anchor="middle" fill="#222" stroke="#222" stroke-width="0.1">HFD</text>
<line x1="47.6" y1="400.4" x2="89.9" y2="400.4" stroke="#606060" stroke-width="1.3"/>
<text x="68.75" y="400.0" font-size="7" text-anchor="middle" fill="#444" stroke="#444" stroke-width="0.12">***</text>
<text transform="translate(11.6,439.0) rotate(-90)" x="0" y="0" font-size="8.8" text-anchor="middle" dominant-baseline="central" font-style="italic" textLength="27.2" lengthAdjust="spacingAndGlyphs" fill="#222" stroke="#222" stroke-width="0.1">Serpine1</text>
<text x="118.1" y="394.3" font-size="11" font-weight="bold" fill="#111" stroke="#111" stroke-width="0.45">H</text>
<path d="M148.10,455.70 L151.11,454.64 L154.12,453.55 L157.14,452.44 L160.15,451.30 L163.16,450.11 L166.18,448.87 L169.19,447.56 L172.20,446.17 L175.21,444.70 L178.22,443.13 L181.24,441.49 L184.25,439.77 L187.26,437.98 L190.28,436.15 L193.29,434.28 L196.30,432.38 L199.31,430.45 L202.32,428.50 L205.34,426.54 L208.35,424.57 L211.36,422.59 L214.38,420.60 L217.39,418.60 L220.40,416.60 L220.40,434.40 L217.39,435.40 L214.38,436.40 L211.36,437.41 L208.35,438.43 L205.34,439.46 L202.32,440.50 L199.31,441.55 L196.30,442.62 L193.29,443.72 L190.28,444.85 L187.26,446.02 L184.25,447.23 L181.24,448.51 L178.22,449.87 L175.21,451.30 L172.20,452.83 L169.19,454.44 L166.18,456.13 L163.16,457.89 L160.15,459.70 L157.14,461.56 L154.12,463.45 L151.11,465.36 L148.10,467.30 Z" fill="#ececec"/>
<line x1="148.1" y1="461.5" x2="220.4" y2="425.5" stroke="#1a1a1a" stroke-width="1.15"/>
<circle cx="148.1" cy="460.3" r="1.05" fill="#86b6cc"/>
<circle cx="152" cy="452" r="1.05" fill="#86b6cc"/>
<circle cx="156.6" cy="444.2" r="1.05" fill="#86b6cc"/>
<circle cx="164.9" cy="456.2" r="1.05" fill="#86b6cc"/>
<circle cx="161.2" cy="467.2" r="1.05" fill="#86b6cc"/>
<circle cx="171.2" cy="460.3" r="1.05" fill="#86b6cc"/>
<circle cx="174.6" cy="460.3" r="1.05" fill="#86b6cc"/>
<circle cx="182" cy="438.8" r="1.05" fill="#d98e9e"/>
<circle cx="191.2" cy="423.8" r="1.05" fill="#d98e9e"/>
<circle cx="197.2" cy="422.7" r="1.05" fill="#d98e9e"/>
<circle cx="201.9" cy="423.8" r="1.05" fill="#d98e9e"/>
<circle cx="190.3" cy="434.9" r="1.05" fill="#d98e9e"/>
<circle cx="196.5" cy="449.2" r="1.05" fill="#d98e9e"/>
<circle cx="197.7" cy="453.8" r="1.05" fill="#d98e9e"/>
<circle cx="220.3" cy="428" r="1.05" fill="#d98e9e"/>
<line x1="144.2" y1="409" x2="144.2" y2="474.3" stroke="#1a1a1a" stroke-width="1.4"/>
<line x1="143.5" y1="473.5" x2="222" y2="473.5" stroke="#1a1a1a" stroke-width="1.4"/>
<line x1="141.2" y1="412.3" x2="144.2" y2="412.3" stroke="#1a1a1a" stroke-width="0.9"/>
<text x="138.0" y="414.8" font-size="6.3" text-anchor="end" fill="#2a2a2a" stroke="#2a2a2a" stroke-width="0.18">10</text>
<line x1="141.2" y1="427.6" x2="144.2" y2="427.6" stroke="#1a1a1a" stroke-width="0.9"/>
<line x1="141.2" y1="442.6" x2="144.2" y2="442.6" stroke="#1a1a1a" stroke-width="0.9"/>
<text x="138.0" y="445.1" font-size="6.3" text-anchor="end" fill="#2a2a2a" stroke="#2a2a2a" stroke-width="0.18">5</text>
<line x1="141.2" y1="457.6" x2="144.2" y2="457.6" stroke="#1a1a1a" stroke-width="0.9"/>
<line x1="141.2" y1="472.3" x2="144.2" y2="472.3" stroke="#1a1a1a" stroke-width="0.9"/>
<text x="138.0" y="474.8" font-size="6.3" text-anchor="end" fill="#2a2a2a" stroke="#2a2a2a" stroke-width="0.18">0</text>
<line x1="166.5" y1="473.5" x2="166.5" y2="476.1" stroke="#1a1a1a" stroke-width="0.9"/>
<text x="166.5" y="485.7" font-size="6.6" text-anchor="middle" fill="#222" stroke="#222" stroke-width="0.1">20</text>
<line x1="191.2" y1="473.5" x2="191.2" y2="476.1" stroke="#1a1a1a" stroke-width="0.9"/>
<text x="191.2" y="485.7" font-size="6.6" text-anchor="middle" fill="#222" stroke="#222" stroke-width="0.1">40</text>
<line x1="216.2" y1="473.5" x2="216.2" y2="476.1" stroke="#1a1a1a" stroke-width="0.9"/>
<text x="216.2" y="485.7" font-size="6.6" text-anchor="middle" fill="#222" stroke="#222" stroke-width="0.1">60</text>
<text x="184.7" y="498.0" font-size="7.6" text-anchor="middle" textLength="61.6" lengthAdjust="spacingAndGlyphs" fill="#222" stroke="#2a2a2a" stroke-width="0.18">Plasm PAI1 (ng/mL)</text>
<text x="151.5" y="417.6" font-size="6.8" textLength="54.3" lengthAdjust="spacingAndGlyphs" fill="#222" stroke="#2a2a2a" stroke-width="0.18"><tspan font-style="italic">r</tspan> = 0.72 &#160;&#160;P &lt; .001</text>
<text transform="translate(121.6,441.4) rotate(-90)" x="0" y="0" font-size="8.8" text-anchor="middle" dominant-baseline="central" font-style="italic" textLength="27.2" lengthAdjust="spacingAndGlyphs" fill="#222" stroke="#222" stroke-width="0.1">Serpine1</text>
<text x="240.5" y="393.8" font-size="11" font-weight="bold" fill="#111" stroke="#111" stroke-width="0.45">I</text>
<defs><filter id="bl" x="-20%" y="-40%" width="140%" height="180%"><feGaussianBlur stdDeviation="0.6"/></filter><filter id="bl2" x="-20%" y="-40%" width="140%" height="180%"><feGaussianBlur stdDeviation="0.9"/></filter></defs>
<rect x="266.3" y="422.4" width="88.5" height="12.0" fill="#a8a8a8" stroke="#3c3c3c" stroke-width="0.9"/>
<rect x="267.2" y="423.29999999999995" width="86.7" height="10.2" fill="#b4b4b4" stroke="#e8e8e8" stroke-width="0.7"/>
<rect x="280.29999999999995" y="423.2" width="2.2" height="10.4" fill="#ececec" filter="url(#bl)"/>
<rect x="295.2" y="423.2" width="2.2" height="10.4" fill="#ececec" filter="url(#bl)"/>
<rect x="309.79999999999995" y="423.2" width="2.2" height="10.4" fill="#ececec" filter="url(#bl)"/>
<rect x="324.4" y="423.2" width="2.2" height="10.4" fill="#ececec" filter="url(#bl)"/>
<rect x="338.7" y="423.2" width="2.2" height="10.4" fill="#ececec" filter="url(#bl)"/>
<rect x="268.6" y="424.59999999999997" width="11.299999999999978" height="8" rx="1.5" fill="#6a6a6a" filter="url(#bl2)"/>
<rect x="282.90000000000003" y="424.59999999999997" width="11.999999999999966" height="8" rx="1.5" fill="#8c8c8c" filter="url(#bl2)"/>
<rect x="297.8" y="424.59999999999997" width="11.4" height="8" rx="1.5" fill="#767676" filter="url(#bl2)"/>
<rect x="312.6" y="424.59999999999997" width="11.099999999999989" height="8" rx="1.5" fill="#1c1c1c" filter="url(#bl2)"/>
<rect x="327.3" y="424.59999999999997" width="10.9" height="8" rx="1.5" fill="#303030" filter="url(#bl2)"/>
<rect x="341.3" y="424.59999999999997" width="12.000000000000023" height="8" rx="1.5" fill="#141414" filter="url(#bl2)"/>
<rect x="266.3" y="440.4" width="88.5" height="12.0" fill="#a8a8a8" stroke="#3c3c3c" stroke-width="0.9"/>
<rect x="267.2" y="441.29999999999995" width="86.7" height="10.2" fill="#b4b4b4" stroke="#e8e8e8" stroke-width="0.7"/>
<rect x="280.29999999999995" y="441.2" width="2.2" height="10.4" fill="#ececec" filter="url(#bl)"/>
<rect x="295.2" y="441.2" width="2.2" height="10.4" fill="#ececec" filter="url(#bl)"/>
<rect x="309.79999999999995" y="441.2" width="2.2" height="10.4" fill="#ececec" filter="url(#bl)"/>
<rect x="324.4" y="441.2" width="2.2" height="10.4" fill="#ececec" filter="url(#bl)"/>
<rect x="338.7" y="441.2" width="2.2" height="10.4" fill="#ececec" filter="url(#bl)"/>
<rect x="268.3" y="443.4" width="11.899999999999977" height="5.6" rx="2.6" fill="#0d0d0d" filter="url(#bl)"/>
<rect x="282.6" y="443.4" width="12.599999999999966" height="5.6" rx="2.6" fill="#0d0d0d" filter="url(#bl)"/>
<rect x="297.5" y="443.4" width="12.0" height="5.6" rx="2.6" fill="#0d0d0d" filter="url(#bl)"/>
<rect x="312.3" y="443.4" width="11.699999999999989" height="5.6" rx="2.6" fill="#0d0d0d" filter="url(#bl)"/>
<rect x="327.0" y="443.4" width="11.5" height="5.6" rx="2.6" fill="#0d0d0d" filter="url(#bl)"/>
<rect x="341.0" y="443.4" width="12.600000000000023" height="5.6" rx="2.6" fill="#0d0d0d" filter="url(#bl)"/>
<text x="264.3" y="429.3" font-size="6.8" text-anchor="end" textLength="14.6" lengthAdjust="spacingAndGlyphs" fill="#222">PAI1</text>
<text x="264.3" y="448.6" font-size="6.8" text-anchor="end" textLength="23.8" lengthAdjust="spacingAndGlyphs" fill="#222">GAPDH</text>
<text x="357.7" y="430.8" font-size="6.8" textLength="16.1" lengthAdjust="spacingAndGlyphs" fill="#222">45kD</text>
<text x="357.7" y="448.6" font-size="6.8" textLength="16.3" lengthAdjust="spacingAndGlyphs" fill="#222">37kD</text>
<line x1="269.8" y1="456.9" x2="306.3" y2="456.9" stroke="#777" stroke-width="1.0"/>
<line x1="314.6" y1="456.9" x2="350.0" y2="456.9" stroke="#777" stroke-width="1.0"/>
<text x="288.0" y="465.6" font-size="7" text-anchor="middle" fill="#222">ND</text>
<text x="332.3" y="465.6" font-size="7" text-anchor="middle" fill="#222">HFD</text>
<rect x="421.9" y="441.5" width="19.6" height="27.8" fill="#86a5c2"/>
<rect x="454.6" y="414" width="19.6" height="55.3" fill="#e38b9d"/>
<line x1="431.9" y1="438.5" x2="431.9" y2="444.5" stroke="#1c3550" stroke-width="1.1"/>
<line x1="429.2" y1="438.5" x2="434.6" y2="438.5" stroke="#1c3550" stroke-width="1.1"/>
<line x1="429.2" y1="444.5" x2="434.6" y2="444.5" stroke="#1c3550" stroke-width="1.1"/>
<line x1="464.6" y1="409.5" x2="464.6" y2="418.5" stroke="#5e0c24" stroke-width="1.1"/>
<line x1="461.9" y1="409.5" x2="467.3" y2="409.5" stroke="#5e0c24" stroke-width="1.1"/>
<line x1="461.9" y1="418.5" x2="467.3" y2="418.5" stroke="#5e0c24" stroke-width="1.1"/>
<circle cx="433.8" cy="435.4" r="1.8" fill="#34587c" stroke="#0a1522" stroke-width="0.95"/>
<circle cx="430.4" cy="441.7" r="1.8" fill="#34587c" stroke="#0a1522" stroke-width="0.95"/>
<circle cx="426.5" cy="442.5" r="1.8" fill="#34587c" stroke="#0a1522" stroke-width="0.95"/>
<circle cx="432.9" cy="447.5" r="1.8" fill="#34587c" stroke="#0a1522" stroke-width="0.95"/>
<circle cx="467.5" cy="402.7" r="1.8" fill="#ac1c40" stroke="#46081a" stroke-width="0.95"/>
<circle cx="462.7" cy="411.4" r="1.8" fill="#ac1c40" stroke="#46081a" stroke-width="0.95"/>
<circle cx="467.5" cy="412.9" r="1.8" fill="#ac1c40" stroke="#46081a" stroke-width="0.95"/>
<circle cx="462.3" cy="418.1" r="1.8" fill="#ac1c40" stroke="#46081a" stroke-width="0.95"/>
<circle cx="466.9" cy="423.3" r="1.8" fill="#ac1c40" stroke="#46081a" stroke-width="0.95"/>
<line x1="411.7" y1="398.7" x2="411.7" y2="473.9" stroke="#1a1a1a" stroke-width="1.4"/>
<line x1="411.0" y1="473.1" x2="477.1" y2="473.1" stroke="#1a1a1a" stroke-width="1.4"/>
<line x1="408.7" y1="401.9" x2="411.7" y2="401.9" stroke="#1a1a1a" stroke-width="0.9"/>
<text x="405.5" y="404.4" font-size="6.3" text-anchor="end" fill="#2a2a2a" stroke="#2a2a2a" stroke-width="0.18">2.0</text>
<line x1="408.7" y1="418.8" x2="411.7" y2="418.8" stroke="#1a1a1a" stroke-width="0.9"/>
<text x="405.5" y="421.3" font-size="6.3" text-anchor="end" fill="#2a2a2a" stroke="#2a2a2a" stroke-width="0.18">1.5</text>
<line x1="408.7" y1="435.6" x2="411.7" y2="435.6" stroke="#1a1a1a" stroke-width="0.9"/>
<text x="405.5" y="438.1" font-size="6.3" text-anchor="end" fill="#2a2a2a" stroke="#2a2a2a" stroke-width="0.18">1.0</text>
<line x1="408.7" y1="452.5" x2="411.7" y2="452.5" stroke="#1a1a1a" stroke-width="0.9"/>
<text x="405.5" y="455.0" font-size="6.3" text-anchor="end" fill="#2a2a2a" stroke="#2a2a2a" stroke-width="0.18">0.5</text>
<line x1="408.7" y1="469.2" x2="411.7" y2="469.2" stroke="#1a1a1a" stroke-width="0.9"/>
<text x="405.5" y="471.7" font-size="6.3" text-anchor="end" fill="#2a2a2a" stroke="#2a2a2a" stroke-width="0.18">0.0</text>
<line x1="431.9" y1="473.1" x2="431.9" y2="475.7" stroke="#1a1a1a" stroke-width="0.9"/>
<text x="431.9" y="485.6" font-size="7.0" text-anchor="middle" fill="#222" stroke="#222" stroke-width="0.1">ND</text>
<line x1="464.6" y1="473.1" x2="464.6" y2="475.7" stroke="#1a1a1a" stroke-width="0.9"/>
<text x="464.6" y="485.6" font-size="7.0" text-anchor="middle" fill="#222" stroke="#222" stroke-width="0.1">HFD</text>
<line x1="423.3" y1="399.0" x2="465" y2="399.0" stroke="#606060" stroke-width="1.3"/>
<text x="444.15" y="398.6" font-size="7" text-anchor="middle" fill="#444" stroke="#444" stroke-width="0.12">***</text>
<text transform="translate(387.6,432.8) rotate(-90)" x="0" y="0" font-size="8.3" text-anchor="middle" dominant-baseline="central" textLength="38.8" lengthAdjust="spacingAndGlyphs" fill="#222" stroke="#222" stroke-width="0.1">PAI1/GAPDH</text>
<text x="8.8" y="527.8" font-size="11" font-weight="bold" fill="#111" stroke="#111" stroke-width="0.45">J</text>
<text x="31.7" y="527.8" font-size="8.7" textLength="38.1" lengthAdjust="spacingAndGlyphs" fill="#222" stroke="#222" stroke-width="0.1">HFD mice</text>
<rect x="44" y="542.7" width="19.9" height="62.9" fill="#86a5c2"/>
<rect x="77.2" y="585" width="20.5" height="20.6" fill="#e38b9d"/>
<line x1="54.6" y1="540.5" x2="54.6" y2="545.0" stroke="#1c3550" stroke-width="1.1"/>
<line x1="51.9" y1="540.5" x2="57.3" y2="540.5" stroke="#1c3550" stroke-width="1.1"/>
<line x1="51.9" y1="545.0" x2="57.3" y2="545.0" stroke="#1c3550" stroke-width="1.1"/>
<line x1="87.8" y1="583.0" x2="87.8" y2="587.0" stroke="#5e0c24" stroke-width="1.1"/>
<line x1="85.1" y1="583.0" x2="90.5" y2="583.0" stroke="#5e0c24" stroke-width="1.1"/>
<line x1="85.1" y1="587.0" x2="90.5" y2="587.0" stroke="#5e0c24" stroke-width="1.1"/>
<circle cx="50.8" cy="540.1" r="1.8" fill="#34587c" stroke="#0a1522" stroke-width="0.95"/>
<circle cx="55.4" cy="539.0" r="1.8" fill="#34587c" stroke="#0a1522" stroke-width="0.95"/>
<circle cx="59.7" cy="542.9" r="1.8" fill="#34587c" stroke="#0a1522" stroke-width="0.95"/>
<circle cx="52.9" cy="543.7" r="1.8" fill="#34587c" stroke="#0a1522" stroke-width="0.95"/>
<circle cx="56.7" cy="547.1" r="1.8" fill="#34587c" stroke="#0a1522" stroke-width="0.95"/>
<circle cx="88.4" cy="581.8" r="1.8" fill="#ac1c40" stroke="#46081a" stroke-width="0.95"/>
<circle cx="84.2" cy="585.2" r="1.8" fill="#ac1c40" stroke="#46081a" stroke-width="0.95"/>
<circle cx="92.7" cy="585.6" r="1.8" fill="#ac1c40" stroke="#46081a" stroke-width="0.95"/>
<circle cx="89.3" cy="589.4" r="1.8" fill="#ac1c40" stroke="#46081a" stroke-width="0.95"/>
<line x1="33.8" y1="535.7" x2="33.8" y2="609.9" stroke="#1a1a1a" stroke-width="1.4"/>
<line x1="33.1" y1="609.1" x2="106.8" y2="609.1" stroke="#1a1a1a" stroke-width="1.4"/>
<line x1="30.8" y1="538.4" x2="33.8" y2="538.4" stroke="#1a1a1a" stroke-width="0.9"/>
<text x="27.6" y="540.9" font-size="6.3" text-anchor="end" fill="#2a2a2a" stroke="#2a2a2a" stroke-width="0.18">40</text>
<line x1="30.8" y1="555.3" x2="33.8" y2="555.3" stroke="#1a1a1a" stroke-width="0.9"/>
<text x="27.6" y="557.8" font-size="6.3" text-anchor="end" fill="#2a2a2a" stroke="#2a2a2a" stroke-width="0.18">30</text>
<line x1="30.8" y1="572.3" x2="33.8" y2="572.3" stroke="#1a1a1a" stroke-width="0.9"/>
<text x="27.6" y="574.8" font-size="6.3" text-anchor="end" fill="#2a2a2a" stroke="#2a2a2a" stroke-width="0.18">20</text>
<line x1="30.8" y1="588.6" x2="33.8" y2="588.6" stroke="#1a1a1a" stroke-width="0.9"/>
<text x="27.6" y="591.1" font-size="6.3" text-anchor="end" fill="#2a2a2a" stroke="#2a2a2a" stroke-width="0.18">10</text>
<line x1="30.8" y1="605.5" x2="33.8" y2="605.5" stroke="#1a1a1a" stroke-width="0.9"/>
<text x="27.6" y="608.0" font-size="6.3" text-anchor="end" fill="#2a2a2a" stroke="#2a2a2a" stroke-width="0.18">0</text>
<line x1="54.6" y1="609.1" x2="54.6" y2="611.7" stroke="#1a1a1a" stroke-width="0.9"/>
<text x="54.6" y="621.6" font-size="6.8" text-anchor="middle" fill="#222" stroke="#222" stroke-width="0.1">Zsgreen</text>
<line x1="88.8" y1="609.1" x2="88.8" y2="611.7" stroke="#1a1a1a" stroke-width="0.9"/>
<text x="88.8" y="621.6" font-size="6.8" text-anchor="middle" fill="#222" stroke="#222" stroke-width="0.1">sh<tspan font-style="italic">Serpine1</tspan></text>
<line x1="49.7" y1="535.6" x2="92" y2="535.6" stroke="#606060" stroke-width="1.3"/>
<text x="70.85" y="535.2" font-size="7" text-anchor="middle" fill="#444" stroke="#444" stroke-width="0.12">***</text>
<text transform="translate(11.5,569.2) rotate(-90)" x="0" y="0" font-size="8.3" text-anchor="middle" dominant-baseline="central" textLength="60.8" lengthAdjust="spacingAndGlyphs" fill="#222" stroke="#222" stroke-width="0.1">Plasm PAI1 (ng/mL)</text>
<text x="118.0" y="527.2" font-size="11" font-weight="bold" fill="#111" stroke="#111" stroke-width="0.45">K</text>
<text x="141.7" y="528.0" font-size="8.7" textLength="39.2" lengthAdjust="spacingAndGlyphs" fill="#222" stroke="#222" stroke-width="0.1">HFD mice</text>
<defs><filter id="bl3" x="-50%" y="-50%" width="200%" height="200%"><feGaussianBlur stdDeviation="1.3"/></filter><filter id="bl4" x="-50%" y="-50%" width="200%" height="200%"><feGaussianBlur stdDeviation="0.35"/></filter><clipPath id="phc"><rect x="141.3" y="542.9" width="67.9" height="59.7"/></clipPath></defs>
<g clip-path="url(#phc)">
<rect x="141.3" y="542.9" width="67.9" height="59.7" fill="#d2d2d2"/>
<rect x="141.3" y="542.9" width="22" height="59.7" fill="#dcdcdc"/>
<rect x="199" y="542.9" width="11" height="59.7" fill="#dedede" filter="url(#bl3)"/>
<rect x="188" y="578" width="22" height="4" fill="#d6d6d6" filter="url(#bl3)"/>
<line x1="149.8" y1="544.20" x2="162.6" y2="544.20" stroke="#606060" stroke-width="0.45"/>
<line x1="153.2" y1="546.16" x2="162.6" y2="546.16" stroke="#606060" stroke-width="0.45"/>
<line x1="153.2" y1="548.12" x2="162.6" y2="548.12" stroke="#606060" stroke-width="0.45"/>
<line x1="153.2" y1="550.08" x2="162.6" y2="550.08" stroke="#606060" stroke-width="0.45"/>
<line x1="153.2" y1="552.04" x2="162.6" y2="552.04" stroke="#606060" stroke-width="0.45"/>
<line x1="149.8" y1="554.00" x2="162.6" y2="554.00" stroke="#606060" stroke-width="0.45"/>
<line x1="153.2" y1="555.96" x2="162.6" y2="555.96" stroke="#606060" stroke-width="0.45"/>
<line x1="153.2" y1="557.92" x2="162.6" y2="557.92" stroke="#606060" stroke-width="0.45"/>
<line x1="153.2" y1="559.88" x2="162.6" y2="559.88" stroke="#606060" stroke-width="0.45"/>
<line x1="153.2" y1="561.84" x2="162.6" y2="561.84" stroke="#606060" stroke-width="0.45"/>
<line x1="149.8" y1="563.80" x2="162.6" y2="563.80" stroke="#606060" stroke-width="0.45"/>
<line x1="153.2" y1="565.76" x2="162.6" y2="565.76" stroke="#606060" stroke-width="0.45"/>
<line x1="153.2" y1="567.72" x2="162.6" y2="567.72" stroke="#606060" stroke-width="0.45"/>
<line x1="153.2" y1="569.68" x2="162.6" y2="569.68" stroke="#606060" stroke-width="0.45"/>
<line x1="153.2" y1="571.64" x2="162.6" y2="571.64" stroke="#606060" stroke-width="0.45"/>
<line x1="149.8" y1="573.60" x2="162.6" y2="573.60" stroke="#606060" stroke-width="0.45"/>
<line x1="153.2" y1="575.56" x2="162.6" y2="575.56" stroke="#606060" stroke-width="0.45"/>
<line x1="153.2" y1="577.52" x2="162.6" y2="577.52" stroke="#606060" stroke-width="0.45"/>
<line x1="153.2" y1="579.48" x2="162.6" y2="579.48" stroke="#606060" stroke-width="0.45"/>
<line x1="153.2" y1="581.44" x2="162.6" y2="581.44" stroke="#606060" stroke-width="0.45"/>
<line x1="149.8" y1="583.40" x2="162.6" y2="583.40" stroke="#606060" stroke-width="0.45"/>
<line x1="153.2" y1="585.36" x2="162.6" y2="585.36" stroke="#606060" stroke-width="0.45"/>
<line x1="153.2" y1="587.32" x2="162.6" y2="587.32" stroke="#606060" stroke-width="0.45"/>
<line x1="153.2" y1="589.28" x2="162.6" y2="589.28" stroke="#606060" stroke-width="0.45"/>
<line x1="153.2" y1="591.24" x2="162.6" y2="591.24" stroke="#606060" stroke-width="0.45"/>
<line x1="149.8" y1="593.20" x2="162.6" y2="593.20" stroke="#606060" stroke-width="0.45"/>
<line x1="153.2" y1="595.16" x2="162.6" y2="595.16" stroke="#606060" stroke-width="0.45"/>
<line x1="153.2" y1="597.12" x2="162.6" y2="597.12" stroke="#606060" stroke-width="0.45"/>
<line x1="153.2" y1="599.08" x2="162.6" y2="599.08" stroke="#606060" stroke-width="0.45"/>
<line x1="153.2" y1="601.04" x2="162.6" y2="601.04" stroke="#606060" stroke-width="0.45"/>
<line x1="149.8" y1="603.00" x2="162.6" y2="603.00" stroke="#606060" stroke-width="0.45"/>
<rect x="162.6" y="542.9" width="3.6" height="59.7" fill="#ebebeb" filter="url(#bl4)"/>
<rect x="166.4" y="542.9" width="4" height="59.7" fill="#b0b0b0" opacity="0.6" filter="url(#bl3)"/>
<text transform="translate(146,546.2) rotate(90)" font-size="5.2" font-weight="bold" fill="#1a1a1a" text-anchor="middle" dominant-baseline="central">4</text>
<text transform="translate(146,566) rotate(90)" font-size="5.2" font-weight="bold" fill="#1a1a1a" text-anchor="middle" dominant-baseline="central">5</text>
<text transform="translate(145.6,585.6) rotate(90)" font-size="5.2" font-weight="bold" fill="#1a1a1a" text-anchor="middle" dominant-baseline="central">6</text>
<path d="M168.6,556.2 Q170.2,554.6 172.8,555.8 Q173.4,557 172.4,559 L171.9,566 Q171.4,572 170.7,575 Q169.9,571 169.8,566 L169.3,560 Q168.2,558 168.6,556.2 Z" fill="#c8806c" stroke="#e2aa92" stroke-width="4.2" stroke-linejoin="round" opacity="0.9" filter="url(#bl3)"/>
<path d="M183.6,556.4 Q185.2,555 186.9,556.2 L186.3,564 L186.2,571.5 Q185.3,574.8 184.3,571.5 L184.2,564 Z" fill="#c8806c" stroke="#e2aa92" stroke-width="4.2" stroke-linejoin="round" opacity="0.9" filter="url(#bl3)"/>
<path d="M196.6,558.5 Q197.6,555.4 199.3,555.6 Q201.2,557 200.6,559.5 L199.5,565 Q198.9,571.2 198.3,570.8 Q197.8,565 196.6,558.5 Z" fill="#c8806c" stroke="#e2aa92" stroke-width="4.2" stroke-linejoin="round" opacity="0.9" filter="url(#bl3)"/>
<path d="M170.8,584.6 Q172.2,583.2 173.7,585 L173.4,591 Q172.6,596.2 171.5,595.4 Q170.6,590 170.8,584.6 Z" fill="#c8806c" stroke="#e2aa92" stroke-width="4.2" stroke-linejoin="round" opacity="0.9" filter="url(#bl3)"/>
<path d="M184.2,585 Q185.8,583.7 187.4,585 L187.1,591.5 Q185.8,595.8 184.6,592.2 Z" fill="#c8806c" stroke="#e2aa92" stroke-width="4.2" stroke-linejoin="round" opacity="0.9" filter="url(#bl3)"/>
<path d="M197.2,584.8 Q199,583.9 200.9,584.6 L200.2,586 Q199.4,587.5 199.4,590 Q199.1,595.4 198.3,594.4 Q198.6,590 197.8,587.6 Z" fill="#c8806c" stroke="#e2aa92" stroke-width="4.2" stroke-linejoin="round" opacity="0.9" filter="url(#bl3)"/>
<path d="M168.6,556.2 Q170.2,554.6 172.8,555.8 Q173.4,557 172.4,559 L171.9,566 Q171.4,572 170.7,575 Q169.9,571 169.8,566 L169.3,560 Q168.2,558 168.6,556.2 Z" fill="#22100d" stroke="#7a2a1c" stroke-width="0.6" filter="url(#bl4)"/>
<path d="M183.6,556.4 Q185.2,555 186.9,556.2 L186.3,564 L186.2,571.5 Q185.3,574.8 184.3,571.5 L184.2,564 Z" fill="#22100d" stroke="#7a2a1c" stroke-width="0.6" filter="url(#bl4)"/>
<path d="M196.6,558.5 Q197.6,555.4 199.3,555.6 Q201.2,557 200.6,559.5 L199.5,565 Q198.9,571.2 198.3,570.8 Q197.8,565 196.6,558.5 Z" fill="#22100d" stroke="#7a2a1c" stroke-width="0.6" filter="url(#bl4)"/>
<path d="M170.8,584.6 Q172.2,583.2 173.7,585 L173.4,591 Q172.6,596.2 171.5,595.4 Q170.6,590 170.8,584.6 Z" fill="#22100d" stroke="#7a2a1c" stroke-width="0.6" filter="url(#bl4)"/>
<path d="M184.2,585 Q185.8,583.7 187.4,585 L187.1,591.5 Q185.8,595.8 184.6,592.2 Z" fill="#22100d" stroke="#7a2a1c" stroke-width="0.6" filter="url(#bl4)"/>
<path d="M197.2,584.8 Q199,583.9 200.9,584.6 L200.2,586 Q199.4,587.5 199.4,590 Q199.1,595.4 198.3,594.4 Q198.6,590 197.8,587.6 Z" fill="#22100d" stroke="#7a2a1c" stroke-width="0.6" filter="url(#bl4)"/>
<circle cx="170.1" cy="558.2" r="0.55" fill="#e8d0c8" filter="url(#bl4)"/>
<circle cx="170.4" cy="561.8" r="0.5" fill="#e8d0c8" filter="url(#bl4)"/>
<circle cx="185.1" cy="566" r="0.4" fill="#e8d0c8" filter="url(#bl4)"/>
<circle cx="198.9" cy="560" r="0.35" fill="#e8d0c8" filter="url(#bl4)"/>
<circle cx="172.2" cy="588" r="0.45" fill="#e8d0c8" filter="url(#bl4)"/>
<circle cx="185.6" cy="588.5" r="0.4" fill="#e8d0c8" filter="url(#bl4)"/>
</g>
<text x="141.4" y="564.2" font-size="8.0" textLength="24.6" lengthAdjust="spacingAndGlyphs" fill="#d8446f" stroke="#d8446f" stroke-width="0.3">Zsgreen</text>
<text x="138.4" y="592.0" font-size="8.0" textLength="32.0" lengthAdjust="spacingAndGlyphs" fill="#d8446f" stroke="#d8446f" stroke-width="0.3">shSerpine1</text>
<rect x="252.4" y="558.9" width="20.2" height="46.7" fill="#86a5c2"/>
<rect x="285.7" y="579.9" width="20.2" height="25.7" fill="#e38b9d"/>
<line x1="262.5" y1="554.3" x2="262.5" y2="564.4" stroke="#1c3550" stroke-width="1.1"/>
<line x1="259.8" y1="554.3" x2="265.2" y2="554.3" stroke="#1c3550" stroke-width="1.1"/>
<line x1="259.8" y1="564.4" x2="265.2" y2="564.4" stroke="#1c3550" stroke-width="1.1"/>
<line x1="295.8" y1="576.5" x2="295.8" y2="583.5" stroke="#5e0c24" stroke-width="1.1"/>
<line x1="293.1" y1="576.5" x2="298.5" y2="576.5" stroke="#5e0c24" stroke-width="1.1"/>
<line x1="293.1" y1="583.5" x2="298.5" y2="583.5" stroke="#5e0c24" stroke-width="1.1"/>
<circle cx="263.1" cy="541.0" r="1.8" fill="#34587c" stroke="#0a1522" stroke-width="0.95"/>
<circle cx="263.9" cy="557.9" r="1.8" fill="#34587c" stroke="#0a1522" stroke-width="0.95"/>
<circle cx="261.8" cy="561.1" r="1.8" fill="#34587c" stroke="#0a1522" stroke-width="0.95"/>
<circle cx="261.8" cy="565.6" r="1.8" fill="#34587c" stroke="#0a1522" stroke-width="0.95"/>
<circle cx="265.5" cy="570.0" r="1.8" fill="#34587c" stroke="#0a1522" stroke-width="0.95"/>
<circle cx="298.2" cy="572.7" r="1.8" fill="#ac1c40" stroke="#46081a" stroke-width="0.95"/>
<circle cx="296.2" cy="577.3" r="1.8" fill="#ac1c40" stroke="#46081a" stroke-width="0.95"/>
<circle cx="294.2" cy="582.2" r="1.8" fill="#ac1c40" stroke="#46081a" stroke-width="0.95"/>
<circle cx="298.2" cy="590.8" r="1.8" fill="#ac1c40" stroke="#46081a" stroke-width="0.95"/>
<line x1="242.3" y1="537.5" x2="242.3" y2="610.0" stroke="#1a1a1a" stroke-width="1.4"/>
<line x1="241.6" y1="609.2" x2="309.9" y2="609.2" stroke="#1a1a1a" stroke-width="1.4"/>
<line x1="239.3" y1="553.3" x2="242.3" y2="553.3" stroke="#1a1a1a" stroke-width="0.9"/>
<text x="236.1" y="555.8" font-size="6.3" text-anchor="end" fill="#2a2a2a" stroke="#2a2a2a" stroke-width="0.18">9</text>
<line x1="239.3" y1="570.4" x2="242.3" y2="570.4" stroke="#1a1a1a" stroke-width="0.9"/>
<text x="236.1" y="572.9" font-size="6.3" text-anchor="end" fill="#2a2a2a" stroke="#2a2a2a" stroke-width="0.18">6</text>
<line x1="239.3" y1="588" x2="242.3" y2="588" stroke="#1a1a1a" stroke-width="0.9"/>
<text x="236.1" y="590.5" font-size="6.3" text-anchor="end" fill="#2a2a2a" stroke="#2a2a2a" stroke-width="0.18">3</text>
<line x1="239.3" y1="605.4" x2="242.3" y2="605.4" stroke="#1a1a1a" stroke-width="0.9"/>
<text x="236.1" y="607.9" font-size="6.3" text-anchor="end" fill="#2a2a2a" stroke="#2a2a2a" stroke-width="0.18">0</text>
<line x1="262.5" y1="609.2" x2="262.5" y2="611.8" stroke="#1a1a1a" stroke-width="0.9"/>
<text x="262.5" y="621.7" font-size="6.8" text-anchor="middle" fill="#222" stroke="#222" stroke-width="0.1">Zsgreen</text>
<line x1="295.8" y1="609.2" x2="295.8" y2="611.8" stroke="#1a1a1a" stroke-width="0.9"/>
<text x="295.8" y="621.7" font-size="6.8" text-anchor="middle" fill="#222" stroke="#222" stroke-width="0.1">sh<tspan font-style="italic">Serpine1</tspan></text>
<line x1="257.8" y1="537.4" x2="299.8" y2="537.4" stroke="#606060" stroke-width="1.3"/>
<text x="278.8" y="537.0" font-size="7" text-anchor="middle" fill="#444" stroke="#444" stroke-width="0.12">**</text>
<text transform="translate(223.6,572.5) rotate(-90)" x="0" y="0" font-size="8.3" text-anchor="middle" dominant-baseline="central" textLength="72.9" lengthAdjust="spacingAndGlyphs" fill="#222" stroke="#222" stroke-width="0.1">Thrombus length (mm)</text>
<rect x="360" y="563" width="20.2" height="42.6" fill="#86a5c2"/>
<rect x="393.1" y="587.2" width="19.8" height="18.4" fill="#e38b9d"/>
<line x1="370.1" y1="555.3" x2="370.1" y2="570.4" stroke="#1c3550" stroke-width="1.1"/>
<line x1="367.4" y1="555.3" x2="372.8" y2="555.3" stroke="#1c3550" stroke-width="1.1"/>
<line x1="367.4" y1="570.4" x2="372.8" y2="570.4" stroke="#1c3550" stroke-width="1.1"/>
<line x1="402.8" y1="583.2" x2="402.8" y2="591.0" stroke="#5e0c24" stroke-width="1.1"/>
<line x1="400.1" y1="583.2" x2="405.5" y2="583.2" stroke="#5e0c24" stroke-width="1.1"/>
<line x1="400.1" y1="591.0" x2="405.5" y2="591.0" stroke="#5e0c24" stroke-width="1.1"/>
<circle cx="372.1" cy="541.0" r="1.8" fill="#34587c" stroke="#0a1522" stroke-width="0.95"/>
<circle cx="370.5" cy="552.5" r="1.8" fill="#34587c" stroke="#0a1522" stroke-width="0.95"/>
<circle cx="368.1" cy="559.1" r="1.8" fill="#34587c" stroke="#0a1522" stroke-width="0.95"/>
<circle cx="370.9" cy="577.3" r="1.8" fill="#34587c" stroke="#0a1522" stroke-width="0.95"/>
<circle cx="368.1" cy="584.2" r="1.8" fill="#34587c" stroke="#0a1522" stroke-width="0.95"/>
<circle cx="402.8" cy="575.7" r="1.8" fill="#ac1c40" stroke="#46081a" stroke-width="0.95"/>
<circle cx="406.4" cy="582.2" r="1.8" fill="#ac1c40" stroke="#46081a" stroke-width="0.95"/>
<circle cx="399.2" cy="591.4" r="1.8" fill="#ac1c40" stroke="#46081a" stroke-width="0.95"/>
<circle cx="402.8" cy="592.2" r="1.8" fill="#ac1c40" stroke="#46081a" stroke-width="0.95"/>
<circle cx="405.8" cy="594.3" r="1.8" fill="#ac1c40" stroke="#46081a" stroke-width="0.95"/>
<line x1="349.3" y1="536.1" x2="349.3" y2="610.0" stroke="#1a1a1a" stroke-width="1.4"/>
<line x1="348.6" y1="609.2" x2="417.3" y2="609.2" stroke="#1a1a1a" stroke-width="1.4"/>
<line x1="346.3" y1="539.1" x2="349.3" y2="539.1" stroke="#1a1a1a" stroke-width="0.9"/>
<text x="343.1" y="541.6" font-size="6.3" text-anchor="end" fill="#2a2a2a" stroke="#2a2a2a" stroke-width="0.18">20</text>
<line x1="346.3" y1="555.7" x2="349.3" y2="555.7" stroke="#1a1a1a" stroke-width="0.9"/>
<text x="343.1" y="558.2" font-size="6.3" text-anchor="end" fill="#2a2a2a" stroke="#2a2a2a" stroke-width="0.18">15</text>
<line x1="346.3" y1="572.5" x2="349.3" y2="572.5" stroke="#1a1a1a" stroke-width="0.9"/>
<text x="343.1" y="575.0" font-size="6.3" text-anchor="end" fill="#2a2a2a" stroke="#2a2a2a" stroke-width="0.18">10</text>
<line x1="346.3" y1="589.2" x2="349.3" y2="589.2" stroke="#1a1a1a" stroke-width="0.9"/>
<text x="343.1" y="591.7" font-size="6.3" text-anchor="end" fill="#2a2a2a" stroke="#2a2a2a" stroke-width="0.18">5</text>
<line x1="346.3" y1="605.4" x2="349.3" y2="605.4" stroke="#1a1a1a" stroke-width="0.9"/>
<text x="343.1" y="607.9" font-size="6.3" text-anchor="end" fill="#2a2a2a" stroke="#2a2a2a" stroke-width="0.18">0</text>
<line x1="370.1" y1="609.2" x2="370.1" y2="611.8" stroke="#1a1a1a" stroke-width="0.9"/>
<text x="370.1" y="621.7" font-size="6.8" text-anchor="middle" fill="#222" stroke="#222" stroke-width="0.1">Zsgreen</text>
<line x1="403.2" y1="609.2" x2="403.2" y2="611.8" stroke="#1a1a1a" stroke-width="0.9"/>
<text x="403.2" y="621.7" font-size="6.8" text-anchor="middle" fill="#222" stroke="#222" stroke-width="0.1">sh<tspan font-style="italic">Serpine1</tspan></text>
<line x1="364" y1="537.0" x2="409.9" y2="537.0" stroke="#606060" stroke-width="1.3"/>
<text x="386.95" y="536.6" font-size="7" text-anchor="middle" fill="#444" stroke="#444" stroke-width="0.12">*</text>
<text transform="translate(326.6,570.2) rotate(-90)" x="0" y="0" font-size="8.3" text-anchor="middle" dominant-baseline="central" textLength="71" lengthAdjust="spacingAndGlyphs" fill="#222" stroke="#222" stroke-width="0.1">Thrombus weight (mg)</text>
<rect x="0.5" y="0.5" width="519" height="629" fill="none" stroke="#2e2e2e" stroke-width="1.1"/>
</svg>
</body></html>
